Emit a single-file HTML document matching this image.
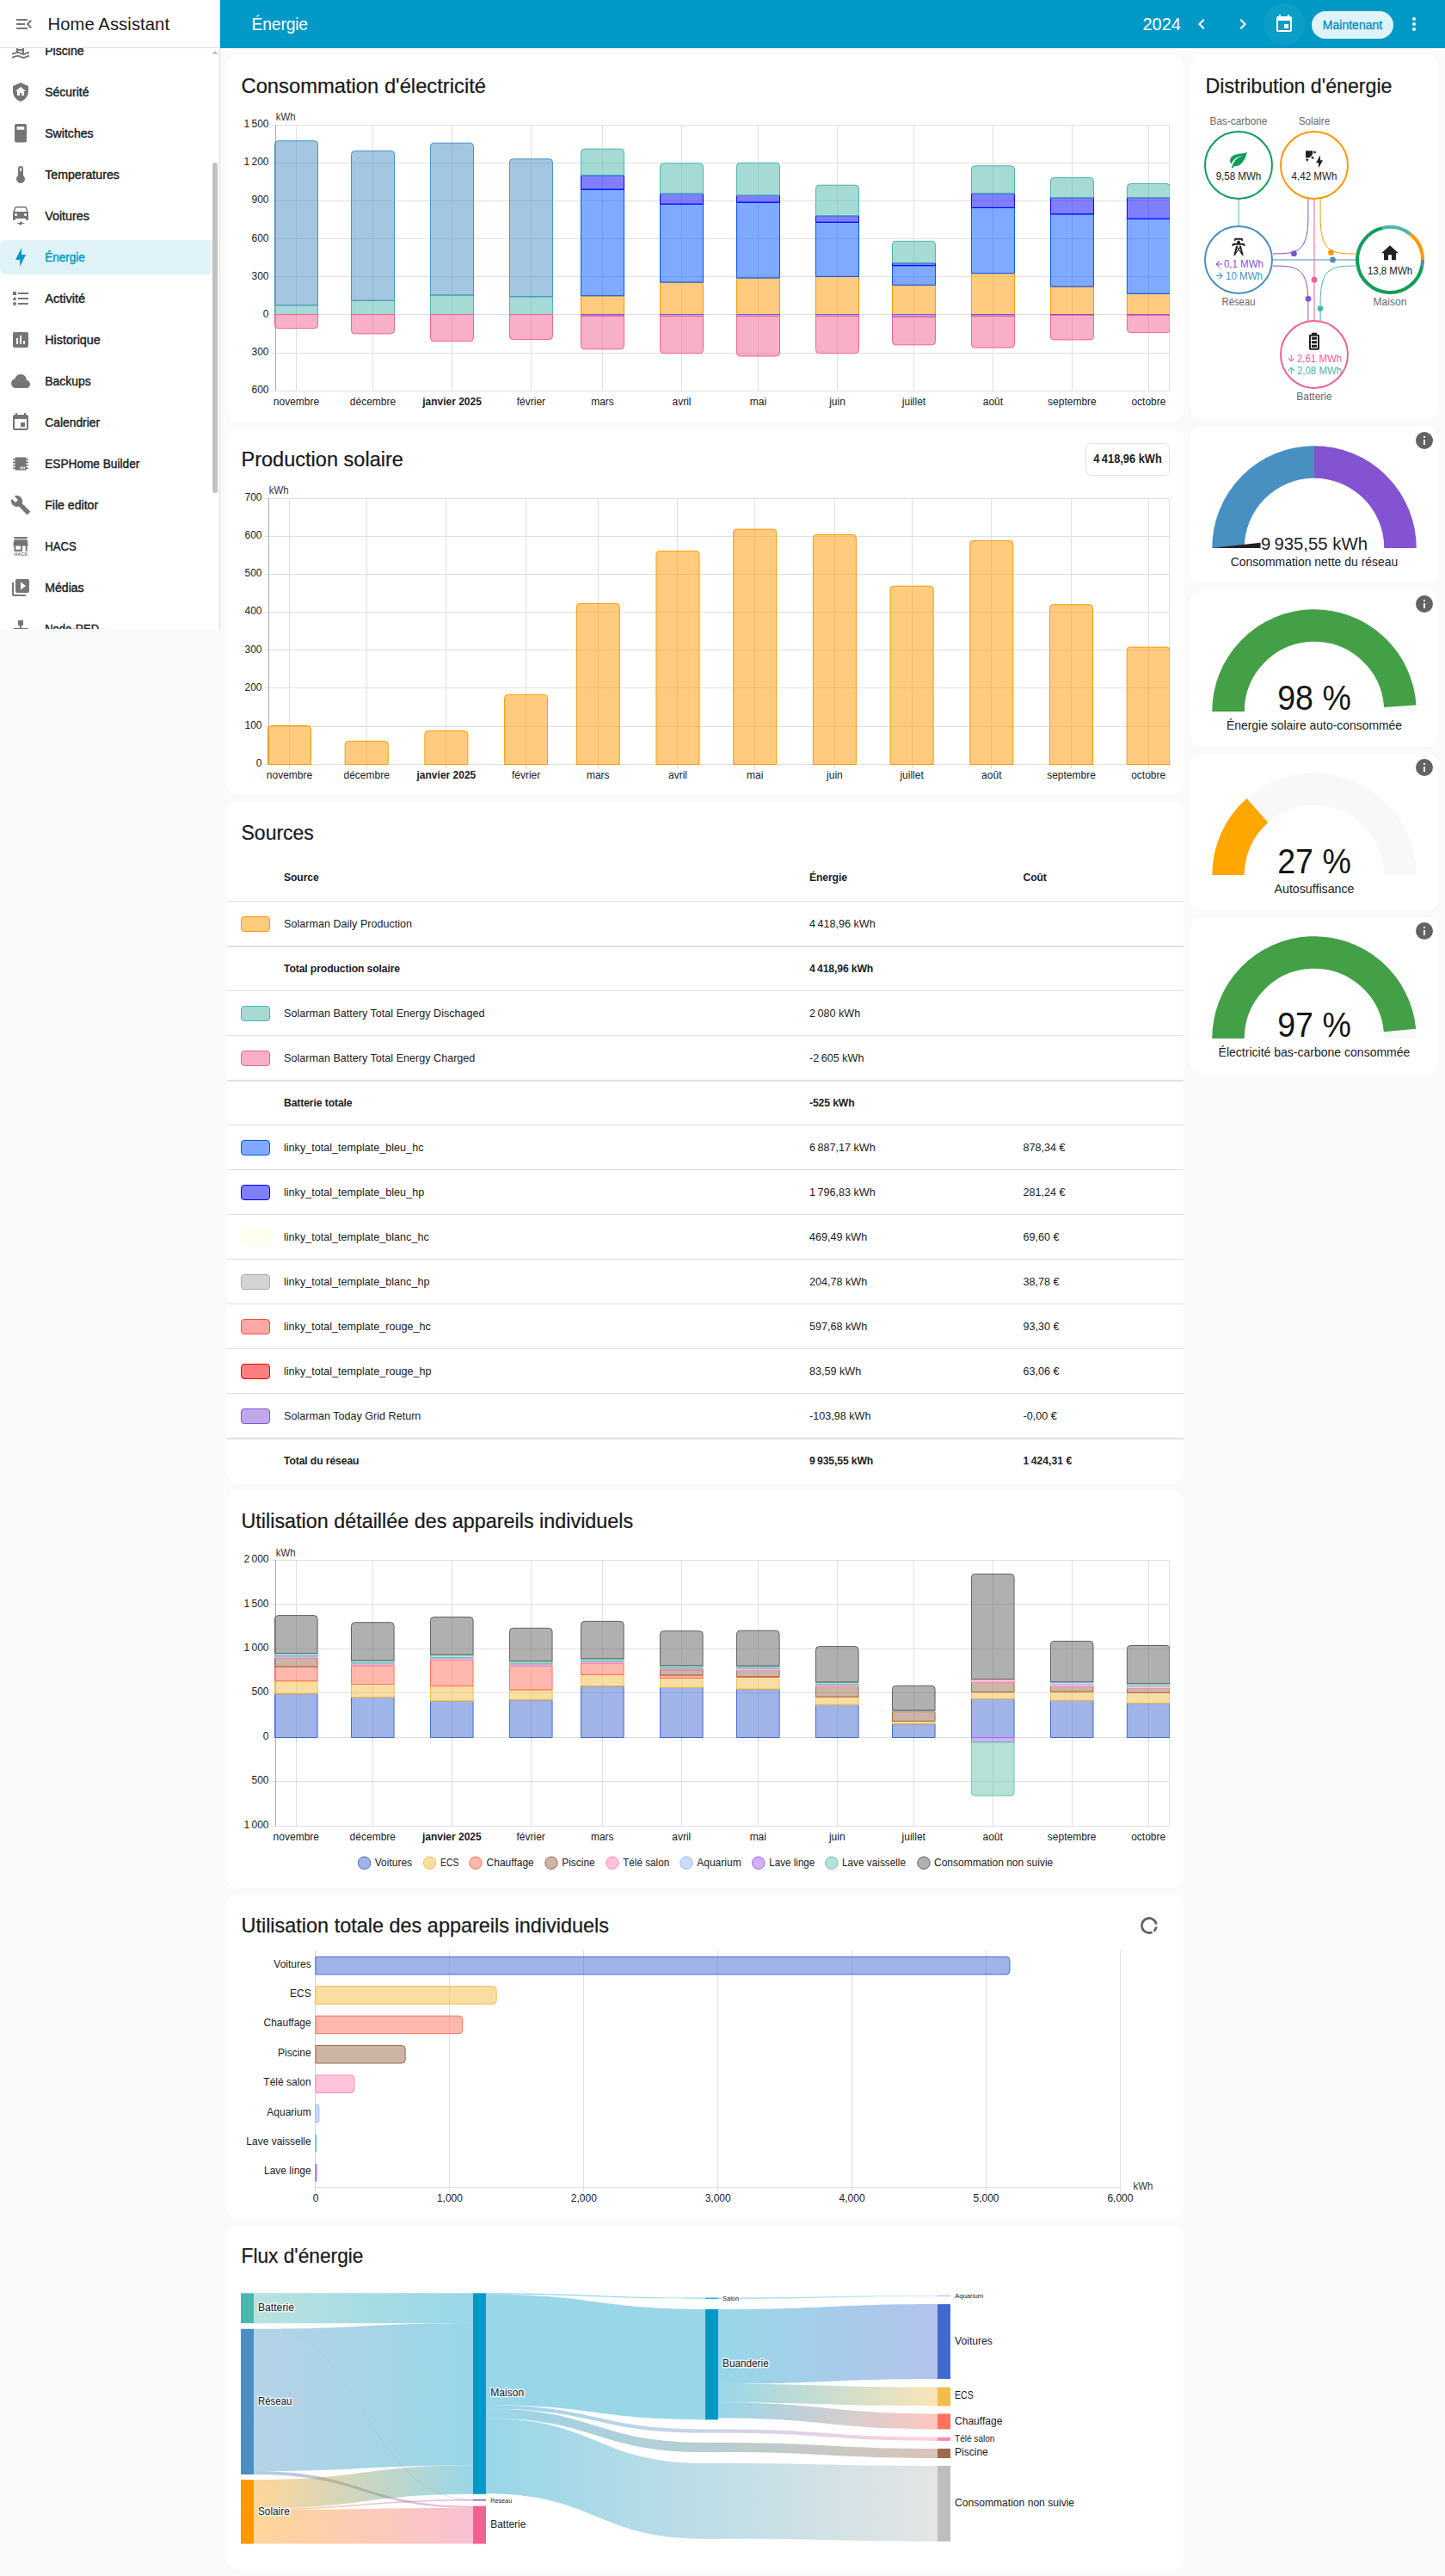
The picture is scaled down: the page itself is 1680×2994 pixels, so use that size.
<!DOCTYPE html>
<html lang="fr"><head><meta charset="utf-8"><title>Énergie – Home Assistant</title>
<style>
html,body{margin:0;padding:0}
body{width:1680px;height:2994px;background:#fafafa;position:relative;overflow:hidden;font-family:"Liberation Sans",sans-serif;color:#212121;-webkit-font-smoothing:antialiased}
.abs{position:absolute}
.card{position:absolute;background:#fff;border-radius:12px}
.title{position:absolute;font-size:23.8px;line-height:32px;white-space:nowrap;color:#212121}
.sb{position:absolute;left:52px;font-size:14px;line-height:20px;white-space:nowrap;color:#212121;-webkit-text-stroke:0.35px #212121}
.row{position:absolute;left:0;width:1112px;height:52px;border-top:1px solid #e0e0e0;box-sizing:border-box;font-size:12.6px;white-space:nowrap}
.row.tot{border-top-width:2px;font-weight:bold;font-size:12.2px;letter-spacing:-0.12px}
.row.tot span{top:0}
.row span{position:absolute;top:1px;line-height:51px}
.row .n{left:66px}.row .e{left:677px}.row .c{left:925.5px}
.row i{position:absolute;left:16px;top:17px;width:32px;height:16px;border:1px solid;border-radius:4px}
.gname{position:absolute;left:0;width:288px;text-align:center;font-size:15px;line-height:20px;white-space:nowrap}
.lbl{position:absolute;font-size:12px;line-height:16px;color:#727272;white-space:nowrap;text-align:center;width:120px}
</style></head><body>

<div class="abs" style="left:0;top:0;width:255px;height:731px;background:#fff;border-right:1px solid #e0e0e0;overflow:hidden">
<div class="abs" style="left:0;top:56px;width:255px;height:675px;overflow:hidden">
<svg class="abs" style="left:12px;top:-9px" width="24" height="24" viewBox="0 0 24 24" ><path fill="#757575" fill-rule="evenodd" d="M2,15C3.67,14.25 5.33,13.5 7,13.17V5A3,3 0 0,1 10,2C11.31,2 12.42,2.83 12.83,4H10A1,1 0 0,0 9,5V6H14V5A3,3 0 0,1 17,2C18.31,2 19.42,2.83 19.83,4H17A1,1 0 0,0 16,5V14.94C18,14.62 20,13 22,13V15C19.78,15 17.56,17 15.33,17C13.11,17 10.89,15 8.67,15C6.44,15 4.22,16 2,17V15M14,8H9V10H14V8M14,12H9V13C10.67,13.16 12.33,14.31 14,14.79V12M2,19C4.22,18 6.44,17 8.67,17C10.89,17 13.11,19 15.33,19C17.56,19 19.78,17 22,17V19C19.78,19 17.56,21 15.33,21C13.11,21 10.89,19 8.67,19C6.44,19 4.22,20 2,21V19Z"/></svg>
<svg class="abs" style="left:48px;top:-9px" width="55.5" height="24" viewBox="48 -9 55.5 24" font-family='"Liberation Sans", sans-serif'><text x="52.2" y="8.0" font-size="14" text-anchor="start" fill="#212121" textLength="45.5" lengthAdjust="spacingAndGlyphs" stroke="#212121" stroke-width="0.4">Piscine</text></svg>
<svg class="abs" style="left:12px;top:39px" width="24" height="24" viewBox="0 0 24 24" ><path fill="#757575" fill-rule="evenodd" d="M11,13H13V16H16V11H18L12,6L6,11H8V16H11V13M12,1L21,5V11C21,16.55 17.16,21.74 12,23C6.84,21.74 3,16.55 3,11V5L12,1Z"/></svg>
<svg class="abs" style="left:48px;top:39px" width="61.3" height="24" viewBox="48 39 61.3 24" font-family='"Liberation Sans", sans-serif'><text x="52.2" y="56.0" font-size="14" text-anchor="start" fill="#212121" textLength="51.3" lengthAdjust="spacingAndGlyphs" stroke="#212121" stroke-width="0.4">Sécurité</text></svg>
<svg class="abs" style="left:12px;top:87px" width="24" height="24" viewBox="0 0 24 24" ><path fill="#757575" fill-rule="evenodd" d="M7,1H17A2,2 0 0,1 19,3V20.5A2,2 0 0,1 17,22.5H7A2,2 0 0,1 5,20.5V3A2,2 0 0,1 7,1M7.6,4.2V7.8H16.2V4.2Z"/></svg>
<svg class="abs" style="left:48px;top:87px" width="66.5" height="24" viewBox="48 87 66.5 24" font-family='"Liberation Sans", sans-serif'><text x="52.2" y="104.0" font-size="14" text-anchor="start" fill="#212121" textLength="56.5" lengthAdjust="spacingAndGlyphs" stroke="#212121" stroke-width="0.4">Switches</text></svg>
<svg class="abs" style="left:12px;top:135px" width="24" height="24" viewBox="0 0 24 24" ><path fill="#757575" fill-rule="evenodd" d="M15,13V5A3,3 0 0,0 9,5V13A5,5 0 1,0 15,13M12,4A1,1 0 0,1 13,5V8H11V5A1,1 0 0,1 12,4Z"/></svg>
<svg class="abs" style="left:48px;top:135px" width="96.7" height="24" viewBox="48 135 96.7 24" font-family='"Liberation Sans", sans-serif'><text x="52.2" y="152.0" font-size="14" text-anchor="start" fill="#212121" textLength="86.7" lengthAdjust="spacingAndGlyphs" stroke="#212121" stroke-width="0.4">Temperatures</text></svg>
<svg class="abs" style="left:12px;top:183px" width="24" height="24" viewBox="0 0 24 24" ><path fill="#757575" fill-rule="evenodd" d="M18.92,2C18.72,1.42 18.16,1 17.5,1H6.5C5.84,1 5.29,1.42 5.08,2L3,8V16A1,1 0 0,0 4,17H5A1,1 0 0,0 6,16V15H18V16A1,1 0 0,0 19,17H20A1,1 0 0,0 21,16V8L18.92,2M6.5,12A1.5,1.5 0 0,1 5,10.5A1.5,1.5 0 0,1 6.5,9A1.5,1.5 0 0,1 8,10.5A1.5,1.5 0 0,1 6.5,12M17.5,12A1.5,1.5 0 0,1 16,10.5A1.5,1.5 0 0,1 17.5,9A1.5,1.5 0 0,1 19,10.5A1.5,1.5 0 0,1 17.5,12M5,7L6.5,2.5H17.5L19,7H5M7,20H11V18L17,21H13V23L7,20Z"/></svg>
<svg class="abs" style="left:48px;top:183px" width="61.8" height="24" viewBox="48 183 61.8 24" font-family='"Liberation Sans", sans-serif'><text x="52.2" y="200.0" font-size="14" text-anchor="start" fill="#212121" textLength="51.8" lengthAdjust="spacingAndGlyphs" stroke="#212121" stroke-width="0.4">Voitures</text></svg>
<div class="abs" style="left:0;top:223px;width:245px;height:40px;background:#e0f3f9;border-radius:6px 0 0 6px"></div>
<svg class="abs" style="left:12px;top:231px" width="24" height="24" viewBox="0 0 24 24" ><path fill="#0099c6" fill-rule="evenodd" d="M11,15H6L13,1V9H18L11,23V15Z"/></svg>
<svg class="abs" style="left:48px;top:231px" width="56.6" height="24" viewBox="48 231 56.6 24" font-family='"Liberation Sans", sans-serif'><text x="52.2" y="248.0" font-size="14" text-anchor="start" fill="#0099c6" textLength="46.6" lengthAdjust="spacingAndGlyphs" stroke="#0099c6" stroke-width="0.4">Énergie</text></svg>
<svg class="abs" style="left:12px;top:279px" width="24" height="24" viewBox="0 0 24 24" ><path fill="#757575" fill-rule="evenodd" d="M5,9.5L7.5,14H2.5L5,9.5M3,4H7V8H3V4M5,20A2,2 0 0,0 7,18A2,2 0 0,0 5,16A2,2 0 0,0 3,18A2,2 0 0,0 5,20M9,5V7H21V5H9M9,19H21V17H9V19M9,13H21V11H9V13Z"/></svg>
<svg class="abs" style="left:48px;top:279px" width="57" height="24" viewBox="48 279 57 24" font-family='"Liberation Sans", sans-serif'><text x="52.2" y="296.0" font-size="14" text-anchor="start" fill="#212121" textLength="47" lengthAdjust="spacingAndGlyphs" stroke="#212121" stroke-width="0.4">Activité</text></svg>
<svg class="abs" style="left:12px;top:327px" width="24" height="24" viewBox="0 0 24 24" ><path fill="#757575" fill-rule="evenodd" d="M19,3H5C3.9,3 3,3.9 3,5V19C3,20.1 3.9,21 5,21H19C20.1,21 21,20.1 21,19V5C21,3.9 20.1,3 19,3M9,17H7V10H9V17M13,17H11V7H13V17M17,17H15V13H17V17Z"/></svg>
<svg class="abs" style="left:48px;top:327px" width="74.6" height="24" viewBox="48 327 74.6 24" font-family='"Liberation Sans", sans-serif'><text x="52.2" y="344.0" font-size="14" text-anchor="start" fill="#212121" textLength="64.6" lengthAdjust="spacingAndGlyphs" stroke="#212121" stroke-width="0.4">Historique</text></svg>
<svg class="abs" style="left:12px;top:375px" width="24" height="24" viewBox="0 0 24 24" ><path fill="#757575" fill-rule="evenodd" d="M6.5,20Q4.22,20 2.61,18.43Q1,16.85 1,14.58Q1,12.63 2.17,11.1Q3.35,9.57 5.25,9.15Q5.88,6.85 7.75,5.43Q9.63,4 12,4Q14.93,4 16.96,6.04Q19,8.07 19,11Q20.73,11.2 21.86,12.5Q23,13.78 23,15.5Q23,17.38 21.69,18.69Q20.38,20 18.5,20Z"/></svg>
<svg class="abs" style="left:48px;top:375px" width="63.6" height="24" viewBox="48 375 63.6 24" font-family='"Liberation Sans", sans-serif'><text x="52.2" y="392.0" font-size="14" text-anchor="start" fill="#212121" textLength="53.6" lengthAdjust="spacingAndGlyphs" stroke="#212121" stroke-width="0.4">Backups</text></svg>
<svg class="abs" style="left:12px;top:423px" width="24" height="24" viewBox="0 0 24 24" ><path fill="#757575" fill-rule="evenodd" d="M19,19H5V8H19M16,1V3H8V1H6V3H5C3.89,3 3,3.89 3,5V19A2,2 0 0,0 5,21H19A2,2 0 0,0 21,19V5C21,3.89 20.1,3 19,3H18V1M17,12H12V17H17V12Z"/></svg>
<svg class="abs" style="left:48px;top:423px" width="73.9" height="24" viewBox="48 423 73.9 24" font-family='"Liberation Sans", sans-serif'><text x="52.2" y="440.0" font-size="14" text-anchor="start" fill="#212121" textLength="63.9" lengthAdjust="spacingAndGlyphs" stroke="#212121" stroke-width="0.4">Calendrier</text></svg>
<svg class="abs" style="left:12px;top:471px" width="24" height="24" viewBox="0 0 24 24"><path fill="#757575" fill-rule="evenodd" d="M5.5,4.5H18.5V19.5H5.5ZM3,6.2H5.5V7.8H3ZM3,9.6H5.5V11.2H3ZM3,13H5.5V14.6H3ZM3,16.4H5.5V18H3ZM18.5,6.2H21V7.8H18.5ZM18.5,9.6H21V11.2H18.5ZM18.5,13H21V14.6H18.5ZM18.5,16.4H21V18H18.5ZM11.6,15.3H12.7V18.3H11.6ZM13.6,15.3H14.7V18.3H13.6ZM15.6,15.3H16.7V18.3H15.6Z"/></svg>
<svg class="abs" style="left:48px;top:471px" width="120.1" height="24" viewBox="48 471 120.1 24" font-family='"Liberation Sans", sans-serif'><text x="52.2" y="488.0" font-size="14" text-anchor="start" fill="#212121" textLength="110.1" lengthAdjust="spacingAndGlyphs" stroke="#212121" stroke-width="0.4">ESPHome Builder</text></svg>
<svg class="abs" style="left:12px;top:519px" width="24" height="24" viewBox="0 0 24 24" ><path fill="#757575" fill-rule="evenodd" d="M22.7,19L13.6,9.9C14.5,7.6 14,4.9 12.1,3C10.1,1 7.1,0.6 4.7,1.7L9,6L6,9L1.6,4.7C0.4,7.1 0.9,10.1 2.9,12.1C4.8,14 7.5,14.5 9.8,13.6L18.9,22.7C19.3,23.1 19.9,23.1 20.3,22.7L22.6,20.4C23.1,20 23.1,19.3 22.7,19Z"/></svg>
<svg class="abs" style="left:48px;top:519px" width="71.9" height="24" viewBox="48 519 71.9 24" font-family='"Liberation Sans", sans-serif'><text x="52.2" y="536.0" font-size="14" text-anchor="start" fill="#212121" textLength="61.9" lengthAdjust="spacingAndGlyphs" stroke="#212121" stroke-width="0.4">File editor</text></svg>
<svg class="abs" style="left:12px;top:567px" width="24" height="24" viewBox="0 0 24 24"><path fill="#757575" transform="translate(0.6,-3.1) scale(0.95,1.05)" d="M12,18H6V14H12M21,14V12L20,7H4L3,12V14H4V20H14V14H18V20H20V14M20,4H4V6H20V4Z"/><text x="12.1" y="23" font-size="5.4" font-weight="bold" text-anchor="middle" fill="#757575" font-family='"Liberation Sans", sans-serif' textLength="15.5" lengthAdjust="spacingAndGlyphs">HACS</text></svg>
<svg class="abs" style="left:48px;top:567px" width="46.5" height="24" viewBox="48 567 46.5 24" font-family='"Liberation Sans", sans-serif'><text x="52.2" y="584.0" font-size="14" text-anchor="start" fill="#212121" textLength="36.5" lengthAdjust="spacingAndGlyphs" stroke="#212121" stroke-width="0.4">HACS</text></svg>
<svg class="abs" style="left:12px;top:615px" width="24" height="24" viewBox="0 0 24 24" ><path fill="#757575" fill-rule="evenodd" d="M4,6H2V20A2,2 0 0,0 4,22H18V20H4V6M20,2H8A2,2 0 0,0 6,4V16A2,2 0 0,0 8,18H20A2,2 0 0,0 22,16V4A2,2 0 0,0 20,2M12,14.5V5.5L18,10L12,14.5Z"/></svg>
<svg class="abs" style="left:48px;top:615px" width="55.5" height="24" viewBox="48 615 55.5 24" font-family='"Liberation Sans", sans-serif'><text x="52.2" y="632.0" font-size="14" text-anchor="start" fill="#212121" textLength="45.5" lengthAdjust="spacingAndGlyphs" stroke="#212121" stroke-width="0.4">Médias</text></svg>
<svg class="abs" style="left:12px;top:663px" width="24" height="24" viewBox="0 0 24 24" ><path fill="#757575" fill-rule="evenodd" d="M9,2V8H11V11H5C3.89,11 3,11.89 3,13V16H1V22H7V16H5V13H11V16H9V22H15V16H13V13H19V16H17V22H23V16H21V13C21,11.89 20.11,11 19,11H13V8H15V2H9Z"/></svg>
<svg class="abs" style="left:48px;top:663px" width="73" height="24" viewBox="48 663 73 24" font-family='"Liberation Sans", sans-serif'><text x="52.2" y="680.0" font-size="14" text-anchor="start" fill="#212121" textLength="63" lengthAdjust="spacingAndGlyphs" stroke="#212121" stroke-width="0.4">Node-RED</text></svg>
<div class="abs" style="left:247px;top:133px;width:6px;height:384px;border-radius:3px;background:#c1c1c1"></div>
<svg class="abs" style="left:246px;top:2px" width="8" height="6" viewBox="0 0 8 6"><path d="M0.7,5L4,1L7.3,5Z" fill="#bdbdbd"/></svg>
</div>
<div class="abs" style="left:0;top:0;width:255px;height:55px;border-bottom:1px solid #e0e0e0;background:#fff"></div>
<svg class="abs" style="left:16px;top:16px" width="24" height="24" viewBox="0 0 24 24" ><path fill="#757575" fill-rule="evenodd" d="M21,15.61L19.59,17L14.58,12L19.59,7L21,8.39L17.44,12L21,15.61M3,6H16V8H3V6M3,13V11H13V13H3M3,18V16H16V18H3Z"/></svg>
<div class="abs" style="left:55.5px;top:14px;font-size:20.2px;letter-spacing:0.1px;line-height:28px;white-space:nowrap;color:#1a1a1a">Home Assistant</div>
</div>
<div class="abs" style="left:256px;top:0;width:1424px;height:56px;background:#0099c6"></div>
<div class="abs" style="left:292.5px;top:14px;font-size:19.4px;letter-spacing:-0.2px;line-height:28px;color:#fff;white-space:nowrap">Énergie</div>
<div class="abs" style="left:1328.5px;top:14px;font-size:20px;line-height:28px;color:#fff;white-space:nowrap">2024</div>
<svg class="abs" style="left:1385px;top:16px" width="24" height="24" viewBox="0 0 24 24" ><path fill="#fff" fill-rule="evenodd" d="M15.41,16.58L10.83,12L15.41,7.41L14,6L8,12L14,18L15.41,16.58Z"/></svg>
<svg class="abs" style="left:1433px;top:16px" width="24" height="24" viewBox="0 0 24 24" ><path fill="#fff" fill-rule="evenodd" d="M8.59,16.58L13.17,12L8.59,7.41L10,6L16,12L10,18L8.59,16.58Z"/></svg>
<div class="abs" style="left:1469px;top:4px;width:48px;height:48px;border-radius:24px;background:rgba(255,255,255,0.05)"></div>
<svg class="abs" style="left:1481.3px;top:16px" width="24" height="24" viewBox="0 0 24 24" ><path fill="#fff" fill-rule="evenodd" d="M19,19H5V8H19M16,1V3H8V1H6V3H5C3.89,3 3,3.89 3,5V19A2,2 0 0,0 5,21H19A2,2 0 0,0 21,19V5C21,3.89 20.1,3 19,3H18V1M17,12H12V17H17V12Z"/></svg>
<div class="abs" style="left:1525px;top:12.5px;width:95px;height:32px;border-radius:16px;background:#dff3fb;color:#0a8fbc;font-size:14px;line-height:32px;text-align:center;-webkit-text-stroke:0.35px #0a8fbc">Maintenant</div>
<svg class="abs" style="left:1632px;top:16px" width="24" height="24" viewBox="0 0 24 24" ><path fill="#fff" fill-rule="evenodd" d="M12,16A2,2 0 0,1 14,18A2,2 0 0,1 12,20A2,2 0 0,1 10,18A2,2 0 0,1 12,16M12,10A2,2 0 0,1 14,12A2,2 0 0,1 12,14A2,2 0 0,1 10,12A2,2 0 0,1 12,10M12,4A2,2 0 0,1 14,6A2,2 0 0,1 12,8A2,2 0 0,1 10,6A2,2 0 0,1 12,4Z"/></svg>
<div class="card" style="left:264px;top:64px;width:1112px;height:426px"></div>
<div class="card" style="left:264px;top:498px;width:1112px;height:426px"></div>
<div class="card" style="left:264px;top:932px;width:1112px;height:792px"></div>
<div class="card" style="left:264px;top:1732px;width:1112px;height:462px"></div>
<div class="card" style="left:264px;top:2202px;width:1112px;height:376px"></div>
<div class="card" style="left:264px;top:2586px;width:1112px;height:400px"></div>
<div class="card" style="left:1384px;top:64px;width:288px;height:424px"></div>
<div class="card" style="left:1384px;top:496px;width:288px;height:182px"></div>
<div class="card" style="left:1384px;top:686px;width:288px;height:182px"></div>
<div class="card" style="left:1384px;top:876px;width:288px;height:182px"></div>
<div class="card" style="left:1384px;top:1066px;width:288px;height:182px"></div>
<svg class="abs" style="left:276px;top:76px" width="296.5" height="48" viewBox="276 76 296.5 48" font-family='"Liberation Sans", sans-serif'><text x="280.5" y="107.8" font-size="24" text-anchor="start" fill="#1a1a1a" textLength="284.5" lengthAdjust="spacingAndGlyphs" stroke="#1a1a1a" stroke-width="0.25">Consommation d'électricité</text></svg>
<svg class="abs" style="left:276px;top:510px" width="200.4" height="48" viewBox="276 510 200.4 48" font-family='"Liberation Sans", sans-serif'><text x="280.5" y="541.8" font-size="24" text-anchor="start" fill="#1a1a1a" textLength="188.4" lengthAdjust="spacingAndGlyphs" stroke="#1a1a1a" stroke-width="0.25">Production solaire</text></svg>
<svg class="abs" style="left:276px;top:944px" width="96.4" height="48" viewBox="276 944 96.4 48" font-family='"Liberation Sans", sans-serif'><text x="280.5" y="975.8" font-size="24" text-anchor="start" fill="#1a1a1a" textLength="84.4" lengthAdjust="spacingAndGlyphs" stroke="#1a1a1a" stroke-width="0.25">Sources</text></svg>
<svg class="abs" style="left:276px;top:1744px" width="467.7" height="48" viewBox="276 1744 467.7 48" font-family='"Liberation Sans", sans-serif'><text x="280.5" y="1775.8" font-size="24" text-anchor="start" fill="#1a1a1a" textLength="455.7" lengthAdjust="spacingAndGlyphs" stroke="#1a1a1a" stroke-width="0.25">Utilisation détaillée des appareils individuels</text></svg>
<svg class="abs" style="left:276px;top:2214px" width="439.5" height="48" viewBox="276 2214 439.5 48" font-family='"Liberation Sans", sans-serif'><text x="280.5" y="2245.8" font-size="24" text-anchor="start" fill="#1a1a1a" textLength="427.5" lengthAdjust="spacingAndGlyphs" stroke="#1a1a1a" stroke-width="0.25">Utilisation totale des appareils individuels</text></svg>
<svg class="abs" style="left:276px;top:2598px" width="154" height="48" viewBox="276 2598 154 48" font-family='"Liberation Sans", sans-serif'><text x="280.5" y="2629.8" font-size="24" text-anchor="start" fill="#1a1a1a" textLength="142" lengthAdjust="spacingAndGlyphs" stroke="#1a1a1a" stroke-width="0.25">Flux d'énergie</text></svg>
<svg class="abs" style="left:1396.5px;top:76px" width="229" height="48" viewBox="1396.5 76 229 48" font-family='"Liberation Sans", sans-serif'><text x="1401.0" y="107.8" font-size="24" text-anchor="start" fill="#1a1a1a" textLength="217" lengthAdjust="spacingAndGlyphs" stroke="#1a1a1a" stroke-width="0.25">Distribution d'énergie</text></svg>
<svg class="abs" style="left:264px;top:64px" width="1112" height="426" viewBox="264 64 1112 426" font-family='"Liberation Sans", sans-serif' >
<path d="M315.5,145.5H1360" stroke="#e0e0e0"/><path d="M315.5,189.5H1360" stroke="#e0e0e0"/><path d="M315.5,233.5H1360" stroke="#e0e0e0"/><path d="M315.5,277.5H1360" stroke="#e0e0e0"/><path d="M315.5,321.5H1360" stroke="#e0e0e0"/><path d="M315.5,365.5H1360" stroke="#e0e0e0"/><path d="M315.5,410.5H1360" stroke="#e0e0e0"/><path d="M315.5,454.5H1360" stroke="#e0e0e0"/><path d="M344.5,145V454.5" stroke="#e0e0e0"/><path d="M433.5,145V454.5" stroke="#e0e0e0"/><path d="M525.5,145V454.5" stroke="#e0e0e0"/><path d="M617.5,145V454.5" stroke="#e0e0e0"/><path d="M700.5,145V454.5" stroke="#e0e0e0"/><path d="M792.5,145V454.5" stroke="#e0e0e0"/><path d="M881.5,145V454.5" stroke="#e0e0e0"/><path d="M973.5,145V454.5" stroke="#e0e0e0"/><path d="M1062.5,145V454.5" stroke="#e0e0e0"/><path d="M1154.5,145V454.5" stroke="#e0e0e0"/><path d="M1246.5,145V454.5" stroke="#e0e0e0"/><path d="M1335.5,145V454.5" stroke="#e0e0e0"/><path d="M1359.5,145V454.5" stroke="#e0e0e0"/><path d="M320.5,145V454.5" stroke="#adadad"/><text x="312.5" y="148.2" font-size="12" text-anchor="end" fill="#212121" >1 500</text><text x="312.5" y="192.3" font-size="12" text-anchor="end" fill="#212121" >1 200</text><text x="312.5" y="236.4" font-size="12" text-anchor="end" fill="#212121" >900</text><text x="312.5" y="280.5" font-size="12" text-anchor="end" fill="#212121" >600</text><text x="312.5" y="324.6" font-size="12" text-anchor="end" fill="#212121" >300</text><text x="312.5" y="368.7" font-size="12" text-anchor="end" fill="#212121" >0</text><text x="312.5" y="412.8" font-size="12" text-anchor="end" fill="#212121" >300</text><text x="312.5" y="456.9" font-size="12" text-anchor="end" fill="#212121" >600</text><text x="344.5" y="471.3" font-size="12" text-anchor="middle" fill="#212121" >novembre</text><text x="433.5" y="471.3" font-size="12" text-anchor="middle" fill="#212121" >décembre</text><text x="525.5" y="471.3" font-size="12" text-anchor="middle" fill="#212121" font-weight="700" >janvier 2025</text><text x="617.4" y="471.3" font-size="12" text-anchor="middle" fill="#212121" >février</text><text x="700.5" y="471.3" font-size="12" text-anchor="middle" fill="#212121" >mars</text><text x="792.5" y="471.3" font-size="12" text-anchor="middle" fill="#212121" >avril</text><text x="881.5" y="471.3" font-size="12" text-anchor="middle" fill="#212121" >mai</text><text x="973.5" y="471.3" font-size="12" text-anchor="middle" fill="#212121" >juin</text><text x="1062.5" y="471.3" font-size="12" text-anchor="middle" fill="#212121" >juillet</text><text x="1154.4" y="471.3" font-size="12" text-anchor="middle" fill="#212121" >août</text><text x="1246.4" y="471.3" font-size="12" text-anchor="middle" fill="#212121" >septembre</text><text x="1335.4" y="471.3" font-size="12" text-anchor="middle" fill="#212121" >octobre</text><text x="320.8" y="140.0" font-size="12" text-anchor="start" fill="#333" textLength="22.8" lengthAdjust="spacingAndGlyphs" >kWh</text>
<clipPath id="c1"><rect x="317.5" y="140" width="1042.5" height="320"/></clipPath><g clip-path="url(#c1)">
<path d="M319.50,354.70L369.50,354.70L369.50,365.50L319.50,365.50Z" fill="#4db6ac" fill-opacity="0.5" stroke="#4db6ac" stroke-width="1"/>
<path d="M319.50,167.70Q319.50,163.70 323.50,163.70L365.50,163.70Q369.50,163.70 369.50,167.70L369.50,354.70L319.50,354.70Z" fill="#488fc2" fill-opacity="0.5" stroke="#488fc2" stroke-width="1"/>
<path d="M319.50,365.50L369.50,365.50L369.50,377.70Q369.50,381.70 365.50,381.70L323.50,381.70Q319.50,381.70 319.50,377.70Z" fill="#f06292" fill-opacity="0.5" stroke="#f06292" stroke-width="1"/>
<path d="M408.50,349.30L458.50,349.30L458.50,365.50L408.50,365.50Z" fill="#4db6ac" fill-opacity="0.5" stroke="#4db6ac" stroke-width="1"/>
<path d="M408.50,179.40Q408.50,175.40 412.50,175.40L454.50,175.40Q458.50,175.40 458.50,179.40L458.50,349.30L408.50,349.30Z" fill="#488fc2" fill-opacity="0.5" stroke="#488fc2" stroke-width="1"/>
<path d="M408.50,365.50L458.50,365.50L458.50,383.90Q458.50,387.90 454.50,387.90L412.50,387.90Q408.50,387.90 408.50,383.90Z" fill="#f06292" fill-opacity="0.5" stroke="#f06292" stroke-width="1"/>
<path d="M500.47,343.00L550.47,343.00L550.47,365.50L500.47,365.50Z" fill="#4db6ac" fill-opacity="0.5" stroke="#4db6ac" stroke-width="1"/>
<path d="M500.47,170.20Q500.47,166.20 504.47,166.20L546.47,166.20Q550.47,166.20 550.47,170.20L550.47,343.00L500.47,343.00Z" fill="#488fc2" fill-opacity="0.5" stroke="#488fc2" stroke-width="1"/>
<path d="M500.47,365.50L550.47,365.50L550.47,392.60Q550.47,396.60 546.47,396.60L504.47,396.60Q500.47,396.60 500.47,392.60Z" fill="#f06292" fill-opacity="0.5" stroke="#f06292" stroke-width="1"/>
<path d="M592.45,344.80L642.45,344.80L642.45,365.50L592.45,365.50Z" fill="#4db6ac" fill-opacity="0.5" stroke="#4db6ac" stroke-width="1"/>
<path d="M592.45,188.80Q592.45,184.80 596.45,184.80L638.45,184.80Q642.45,184.80 642.45,188.80L642.45,344.80L592.45,344.80Z" fill="#488fc2" fill-opacity="0.5" stroke="#488fc2" stroke-width="1"/>
<path d="M592.45,365.50L642.45,365.50L642.45,390.60Q642.45,394.60 638.45,394.60L596.45,394.60Q592.45,394.60 592.45,390.60Z" fill="#f06292" fill-opacity="0.5" stroke="#f06292" stroke-width="1"/>
<path d="M675.52,343.80L725.52,343.80L725.52,365.50L675.52,365.50Z" fill="#ff9800" fill-opacity="0.5" stroke="#ff9800" stroke-width="1"/>
<path d="M675.52,220.20L725.52,220.20L725.52,343.80L675.52,343.80Z" fill="#0055ff" fill-opacity="0.5" stroke="#0055ff" stroke-width="1"/>
<path d="M675.52,204.00L725.52,204.00L725.52,220.20L675.52,220.20Z" fill="#0000ff" fill-opacity="0.5" stroke="#0000ff" stroke-width="1"/>
<path d="M675.52,177.10Q675.52,173.10 679.52,173.10L721.52,173.10Q725.52,173.10 725.52,177.10L725.52,204.00L675.52,204.00Z" fill="#4db6ac" fill-opacity="0.5" stroke="#4db6ac" stroke-width="1"/>
<path d="M675.52,365.50L725.52,365.50L725.52,367.20L675.52,367.20Z" fill="#8353d1" fill-opacity="0.5" stroke="#8353d1" stroke-width="1"/>
<path d="M675.52,367.20L725.52,367.20L725.52,401.80Q725.52,405.80 721.52,405.80L679.52,405.80Q675.52,405.80 675.52,401.80Z" fill="#f06292" fill-opacity="0.5" stroke="#f06292" stroke-width="1"/>
<path d="M767.49,328.10L817.49,328.10L817.49,365.50L767.49,365.50Z" fill="#ff9800" fill-opacity="0.5" stroke="#ff9800" stroke-width="1"/>
<path d="M767.49,237.20L817.49,237.20L817.49,328.10L767.49,328.10Z" fill="#0055ff" fill-opacity="0.5" stroke="#0055ff" stroke-width="1"/>
<path d="M767.49,225.20L817.49,225.20L817.49,237.20L767.49,237.20Z" fill="#0000ff" fill-opacity="0.5" stroke="#0000ff" stroke-width="1"/>
<path d="M767.49,193.80Q767.49,189.80 771.49,189.80L813.49,189.80Q817.49,189.80 817.49,193.80L817.49,225.20L767.49,225.20Z" fill="#4db6ac" fill-opacity="0.5" stroke="#4db6ac" stroke-width="1"/>
<path d="M767.49,365.50L817.49,365.50L817.49,367.50L767.49,367.50Z" fill="#8353d1" fill-opacity="0.5" stroke="#8353d1" stroke-width="1"/>
<path d="M767.49,367.50L817.49,367.50L817.49,406.60Q817.49,410.60 813.49,410.60L771.49,410.60Q767.49,410.60 767.49,406.60Z" fill="#f06292" fill-opacity="0.5" stroke="#f06292" stroke-width="1"/>
<path d="M856.49,323.10L906.49,323.10L906.49,365.50L856.49,365.50Z" fill="#ff9800" fill-opacity="0.5" stroke="#ff9800" stroke-width="1"/>
<path d="M856.49,235.20L906.49,235.20L906.49,323.10L856.49,323.10Z" fill="#0055ff" fill-opacity="0.5" stroke="#0055ff" stroke-width="1"/>
<path d="M856.49,227.20L906.49,227.20L906.49,235.20L856.49,235.20Z" fill="#0000ff" fill-opacity="0.5" stroke="#0000ff" stroke-width="1"/>
<path d="M856.49,193.30Q856.49,189.30 860.49,189.30L902.49,189.30Q906.49,189.30 906.49,193.30L906.49,227.20L856.49,227.20Z" fill="#4db6ac" fill-opacity="0.5" stroke="#4db6ac" stroke-width="1"/>
<path d="M856.49,365.50L906.49,365.50L906.49,367.50L856.49,367.50Z" fill="#8353d1" fill-opacity="0.5" stroke="#8353d1" stroke-width="1"/>
<path d="M856.49,367.50L906.49,367.50L906.49,410.00Q906.49,414.00 902.49,414.00L860.49,414.00Q856.49,414.00 856.49,410.00Z" fill="#f06292" fill-opacity="0.5" stroke="#f06292" stroke-width="1"/>
<path d="M948.46,321.40L998.46,321.40L998.46,365.50L948.46,365.50Z" fill="#ff9800" fill-opacity="0.5" stroke="#ff9800" stroke-width="1"/>
<path d="M948.46,258.30L998.46,258.30L998.46,321.40L948.46,321.40Z" fill="#0055ff" fill-opacity="0.5" stroke="#0055ff" stroke-width="1"/>
<path d="M948.46,250.90L998.46,250.90L998.46,258.30L948.46,258.30Z" fill="#0000ff" fill-opacity="0.5" stroke="#0000ff" stroke-width="1"/>
<path d="M948.46,219.20Q948.46,215.20 952.46,215.20L994.46,215.20Q998.46,215.20 998.46,219.20L998.46,250.90L948.46,250.90Z" fill="#4db6ac" fill-opacity="0.5" stroke="#4db6ac" stroke-width="1"/>
<path d="M948.46,365.50L998.46,365.50L998.46,367.50L948.46,367.50Z" fill="#8353d1" fill-opacity="0.5" stroke="#8353d1" stroke-width="1"/>
<path d="M948.46,367.50L998.46,367.50L998.46,406.60Q998.46,410.60 994.46,410.60L952.46,410.60Q948.46,410.60 948.46,406.60Z" fill="#f06292" fill-opacity="0.5" stroke="#f06292" stroke-width="1"/>
<path d="M1037.47,331.30L1087.47,331.30L1087.47,365.50L1037.47,365.50Z" fill="#ff9800" fill-opacity="0.5" stroke="#ff9800" stroke-width="1"/>
<path d="M1037.47,308.70L1087.47,308.70L1087.47,331.30L1037.47,331.30Z" fill="#0055ff" fill-opacity="0.5" stroke="#0055ff" stroke-width="1"/>
<path d="M1037.47,305.70L1087.47,305.70L1087.47,308.70L1037.47,308.70Z" fill="#0000ff" fill-opacity="0.5" stroke="#0000ff" stroke-width="1"/>
<path d="M1037.47,284.30Q1037.47,280.30 1041.47,280.30L1083.47,280.30Q1087.47,280.30 1087.47,284.30L1087.47,305.70L1037.47,305.70Z" fill="#4db6ac" fill-opacity="0.5" stroke="#4db6ac" stroke-width="1"/>
<path d="M1037.47,365.50L1087.47,365.50L1087.47,368.20L1037.47,368.20Z" fill="#8353d1" fill-opacity="0.5" stroke="#8353d1" stroke-width="1"/>
<path d="M1037.47,368.20L1087.47,368.20L1087.47,396.80Q1087.47,400.80 1083.47,400.80L1041.47,400.80Q1037.47,400.80 1037.47,396.80Z" fill="#f06292" fill-opacity="0.5" stroke="#f06292" stroke-width="1"/>
<path d="M1129.44,317.60L1179.44,317.60L1179.44,365.50L1129.44,365.50Z" fill="#ff9800" fill-opacity="0.5" stroke="#ff9800" stroke-width="1"/>
<path d="M1129.44,241.40L1179.44,241.40L1179.44,317.60L1129.44,317.60Z" fill="#0055ff" fill-opacity="0.5" stroke="#0055ff" stroke-width="1"/>
<path d="M1129.44,225.00L1179.44,225.00L1179.44,241.40L1129.44,241.40Z" fill="#0000ff" fill-opacity="0.5" stroke="#0000ff" stroke-width="1"/>
<path d="M1129.44,196.80Q1129.44,192.80 1133.44,192.80L1175.44,192.80Q1179.44,192.80 1179.44,196.80L1179.44,225.00L1129.44,225.00Z" fill="#4db6ac" fill-opacity="0.5" stroke="#4db6ac" stroke-width="1"/>
<path d="M1129.44,365.50L1179.44,365.50L1179.44,367.30L1129.44,367.30Z" fill="#8353d1" fill-opacity="0.5" stroke="#8353d1" stroke-width="1"/>
<path d="M1129.44,367.30L1179.44,367.30L1179.44,400.10Q1179.44,404.10 1175.44,404.10L1133.44,404.10Q1129.44,404.10 1129.44,400.10Z" fill="#f06292" fill-opacity="0.5" stroke="#f06292" stroke-width="1"/>
<path d="M1221.41,333.10L1271.41,333.10L1271.41,365.50L1221.41,365.50Z" fill="#ff9800" fill-opacity="0.5" stroke="#ff9800" stroke-width="1"/>
<path d="M1221.41,248.90L1271.41,248.90L1271.41,333.10L1221.41,333.10Z" fill="#0055ff" fill-opacity="0.5" stroke="#0055ff" stroke-width="1"/>
<path d="M1221.41,229.70L1271.41,229.70L1271.41,248.90L1221.41,248.90Z" fill="#0000ff" fill-opacity="0.5" stroke="#0000ff" stroke-width="1"/>
<path d="M1221.41,210.50Q1221.41,206.50 1225.41,206.50L1267.41,206.50Q1271.41,206.50 1271.41,210.50L1271.41,229.70L1221.41,229.70Z" fill="#4db6ac" fill-opacity="0.5" stroke="#4db6ac" stroke-width="1"/>
<path d="M1221.41,365.50L1271.41,365.50L1271.41,366.50L1221.41,366.50Z" fill="#8353d1" fill-opacity="0.5" stroke="#8353d1" stroke-width="1"/>
<path d="M1221.41,366.50L1271.41,366.50L1271.41,390.90Q1271.41,394.90 1267.41,394.90L1225.41,394.90Q1221.41,394.90 1221.41,390.90Z" fill="#f06292" fill-opacity="0.5" stroke="#f06292" stroke-width="1"/>
<path d="M1310.41,341.30L1360.41,341.30L1360.41,365.50L1310.41,365.50Z" fill="#ff9800" fill-opacity="0.5" stroke="#ff9800" stroke-width="1"/>
<path d="M1310.41,254.30L1360.41,254.30L1360.41,341.30L1310.41,341.30Z" fill="#0055ff" fill-opacity="0.5" stroke="#0055ff" stroke-width="1"/>
<path d="M1310.41,229.70L1360.41,229.70L1360.41,254.30L1310.41,254.30Z" fill="#0000ff" fill-opacity="0.5" stroke="#0000ff" stroke-width="1"/>
<path d="M1310.41,217.50Q1310.41,213.50 1314.41,213.50L1356.41,213.50Q1360.41,213.50 1360.41,217.50L1360.41,229.70L1310.41,229.70Z" fill="#4db6ac" fill-opacity="0.5" stroke="#4db6ac" stroke-width="1"/>
<path d="M1310.41,365.50L1360.41,365.50L1360.41,366.30L1310.41,366.30Z" fill="#8353d1" fill-opacity="0.5" stroke="#8353d1" stroke-width="1"/>
<path d="M1310.41,366.30L1360.41,366.30L1360.41,382.60Q1360.41,386.60 1356.41,386.60L1314.41,386.60Q1310.41,386.60 1310.41,382.60Z" fill="#f06292" fill-opacity="0.5" stroke="#f06292" stroke-width="1"/>
</g></svg>
<svg class="abs" style="left:264px;top:498px" width="1112" height="426" viewBox="264 498 1112 426" font-family='"Liberation Sans", sans-serif' >
<path d="M307.5,579.5H1360" stroke="#e0e0e0"/><path d="M307.5,623.5H1360" stroke="#e0e0e0"/><path d="M307.5,667.5H1360" stroke="#e0e0e0"/><path d="M307.5,711.5H1360" stroke="#e0e0e0"/><path d="M307.5,755.5H1360" stroke="#e0e0e0"/><path d="M307.5,799.5H1360" stroke="#e0e0e0"/><path d="M307.5,844.5H1360" stroke="#e0e0e0"/><path d="M307.5,888.5H1360" stroke="#e0e0e0"/><path d="M336.5,579V888.5" stroke="#e0e0e0"/><path d="M426.5,579V888.5" stroke="#e0e0e0"/><path d="M518.5,579V888.5" stroke="#e0e0e0"/><path d="M611.5,579V888.5" stroke="#e0e0e0"/><path d="M695.5,579V888.5" stroke="#e0e0e0"/><path d="M787.5,579V888.5" stroke="#e0e0e0"/><path d="M877.5,579V888.5" stroke="#e0e0e0"/><path d="M970.5,579V888.5" stroke="#e0e0e0"/><path d="M1060.5,579V888.5" stroke="#e0e0e0"/><path d="M1152.5,579V888.5" stroke="#e0e0e0"/><path d="M1245.5,579V888.5" stroke="#e0e0e0"/><path d="M1335.5,579V888.5" stroke="#e0e0e0"/><path d="M1359.5,579V888.5" stroke="#e0e0e0"/><path d="M312.5,579V888.5" stroke="#adadad"/><text x="304.5" y="582.0" font-size="12" text-anchor="end" fill="#212121" >700</text><text x="304.5" y="626.1" font-size="12" text-anchor="end" fill="#212121" >600</text><text x="304.5" y="670.3" font-size="12" text-anchor="end" fill="#212121" >500</text><text x="304.5" y="714.4" font-size="12" text-anchor="end" fill="#212121" >400</text><text x="304.5" y="758.5" font-size="12" text-anchor="end" fill="#212121" >300</text><text x="304.5" y="802.6" font-size="12" text-anchor="end" fill="#212121" >200</text><text x="304.5" y="846.7" font-size="12" text-anchor="end" fill="#212121" >100</text><text x="304.5" y="890.9" font-size="12" text-anchor="end" fill="#212121" >0</text><text x="336.5" y="904.8" font-size="12" text-anchor="middle" fill="#212121" >novembre</text><text x="426.2" y="904.8" font-size="12" text-anchor="middle" fill="#212121" >décembre</text><text x="518.9" y="904.8" font-size="12" text-anchor="middle" fill="#212121" font-weight="700" >janvier 2025</text><text x="611.6" y="904.8" font-size="12" text-anchor="middle" fill="#212121" >février</text><text x="695.3" y="904.8" font-size="12" text-anchor="middle" fill="#212121" >mars</text><text x="788.0" y="904.8" font-size="12" text-anchor="middle" fill="#212121" >avril</text><text x="877.7" y="904.8" font-size="12" text-anchor="middle" fill="#212121" >mai</text><text x="970.4" y="904.8" font-size="12" text-anchor="middle" fill="#212121" >juin</text><text x="1060.1" y="904.8" font-size="12" text-anchor="middle" fill="#212121" >juillet</text><text x="1152.8" y="904.8" font-size="12" text-anchor="middle" fill="#212121" >août</text><text x="1245.5" y="904.8" font-size="12" text-anchor="middle" fill="#212121" >septembre</text><text x="1335.2" y="904.8" font-size="12" text-anchor="middle" fill="#212121" >octobre</text><text x="312.8" y="574.1" font-size="12" text-anchor="start" fill="#333" textLength="22.8" lengthAdjust="spacingAndGlyphs" >kWh</text>
<path d="M336.5,888.5v5" stroke="#d4d4d4"/>
<path d="M426.5,888.5v5" stroke="#d4d4d4"/>
<path d="M518.5,888.5v5" stroke="#d4d4d4"/>
<path d="M611.5,888.5v5" stroke="#d4d4d4"/>
<path d="M695.5,888.5v5" stroke="#d4d4d4"/>
<path d="M787.5,888.5v5" stroke="#d4d4d4"/>
<path d="M877.5,888.5v5" stroke="#d4d4d4"/>
<path d="M970.5,888.5v5" stroke="#d4d4d4"/>
<path d="M1060.5,888.5v5" stroke="#d4d4d4"/>
<path d="M1152.5,888.5v5" stroke="#d4d4d4"/>
<path d="M1245.5,888.5v5" stroke="#d4d4d4"/>
<path d="M1335.5,888.5v5" stroke="#d4d4d4"/>
<clipPath id="c2"><rect x="311.0" y="570" width="1049.0" height="319.0"/></clipPath><g clip-path="url(#c2)">
<path d="M311.50,847.50Q311.50,843.50 315.50,843.50L357.50,843.50Q361.50,843.50 361.50,847.50L361.50,888.50L311.50,888.50Z" fill="#ff9800" fill-opacity="0.5" stroke="#ff9800" stroke-width="1"/>
<path d="M401.20,865.40Q401.20,861.40 405.20,861.40L447.20,861.40Q451.20,861.40 451.20,865.40L451.20,888.50L401.20,888.50Z" fill="#ff9800" fill-opacity="0.5" stroke="#ff9800" stroke-width="1"/>
<path d="M493.89,853.50Q493.89,849.50 497.89,849.50L539.89,849.50Q543.89,849.50 543.89,853.50L543.89,888.50L493.89,888.50Z" fill="#ff9800" fill-opacity="0.5" stroke="#ff9800" stroke-width="1"/>
<path d="M586.58,811.40Q586.58,807.40 590.58,807.40L632.58,807.40Q636.58,807.40 636.58,811.40L636.58,888.50L586.58,888.50Z" fill="#ff9800" fill-opacity="0.5" stroke="#ff9800" stroke-width="1"/>
<path d="M670.30,705.40Q670.30,701.40 674.30,701.40L716.30,701.40Q720.30,701.40 720.30,705.40L720.30,888.50L670.30,888.50Z" fill="#ff9800" fill-opacity="0.5" stroke="#ff9800" stroke-width="1"/>
<path d="M762.99,644.40Q762.99,640.40 766.99,640.40L808.99,640.40Q812.99,640.40 812.99,644.40L812.99,888.50L762.99,888.50Z" fill="#ff9800" fill-opacity="0.5" stroke="#ff9800" stroke-width="1"/>
<path d="M852.69,619.10Q852.69,615.10 856.69,615.10L898.69,615.10Q902.69,615.10 902.69,619.10L902.69,888.50L852.69,888.50Z" fill="#ff9800" fill-opacity="0.5" stroke="#ff9800" stroke-width="1"/>
<path d="M945.38,625.50Q945.38,621.50 949.38,621.50L991.38,621.50Q995.38,621.50 995.38,625.50L995.38,888.50L945.38,888.50Z" fill="#ff9800" fill-opacity="0.5" stroke="#ff9800" stroke-width="1"/>
<path d="M1035.08,685.20Q1035.08,681.20 1039.08,681.20L1081.08,681.20Q1085.08,681.20 1085.08,685.20L1085.08,888.50L1035.08,888.50Z" fill="#ff9800" fill-opacity="0.5" stroke="#ff9800" stroke-width="1"/>
<path d="M1127.77,632.30Q1127.77,628.30 1131.77,628.30L1173.77,628.30Q1177.77,628.30 1177.77,632.30L1177.77,888.50L1127.77,888.50Z" fill="#ff9800" fill-opacity="0.5" stroke="#ff9800" stroke-width="1"/>
<path d="M1220.46,706.70Q1220.46,702.70 1224.46,702.70L1266.46,702.70Q1270.46,702.70 1270.46,706.70L1270.46,888.50L1220.46,888.50Z" fill="#ff9800" fill-opacity="0.5" stroke="#ff9800" stroke-width="1"/>
<path d="M1310.16,756.10Q1310.16,752.10 1314.16,752.10L1356.16,752.10Q1360.16,752.10 1360.16,756.10L1360.16,888.50L1310.16,888.50Z" fill="#ff9800" fill-opacity="0.5" stroke="#ff9800" stroke-width="1"/>
</g>
<rect x="1262.5" y="515.5" width="97" height="37" rx="7" fill="#fff" stroke="#e0e0e0"/>
<text x="1311.0" y="537.8" font-size="14" text-anchor="middle" fill="#212121" font-weight="700" textLength="79.7" lengthAdjust="spacingAndGlyphs" >4 418,96 kWh</text>
</svg>
<div class="abs" style="left:264px;top:932px;width:1112px;height:792px;overflow:hidden;border-radius:12px">
<div class="row" style="top:60px;border-top:none;height:55px;font-weight:bold;font-size:12.2px;letter-spacing:-0.12px"><span class="n" style="line-height:55px">Source</span><span class="e" style="line-height:55px">Énergie</span><span class="c" style="line-height:55px">Coût</span></div>
<div class="row" style="top:115px">
<i style="border-color:#ff9800;background:rgba(255,152,0,0.5)"></i>
<span class="n">Solarman Daily Production</span><span class="e">4 418,96 kWh</span><span class="c"></span></div>
<div class="row tot" style="top:167px">
<span class="n">Total production solaire</span><span class="e">4 418,96 kWh</span><span class="c"></span></div>
<div class="row" style="top:219px">
<i style="border-color:#4db6ac;background:rgba(77,182,172,0.5)"></i>
<span class="n">Solarman Battery Total Energy Dischaged</span><span class="e">2 080 kWh</span><span class="c"></span></div>
<div class="row" style="top:271px">
<i style="border-color:#f06292;background:rgba(240,98,146,0.5)"></i>
<span class="n">Solarman Battery Total Energy Charged</span><span class="e">-2 605 kWh</span><span class="c"></span></div>
<div class="row tot" style="top:323px">
<span class="n">Batterie totale</span><span class="e">-525 kWh</span><span class="c"></span></div>
<div class="row" style="top:375px">
<i style="border-color:#0055ff;background:rgba(0,85,255,0.5)"></i>
<span class="n">linky_total_template_bleu_hc</span><span class="e">6 887,17 kWh</span><span class="c">878,34 €</span></div>
<div class="row" style="top:427px">
<i style="border-color:#0000ff;background:rgba(0,0,255,0.5)"></i>
<span class="n">linky_total_template_bleu_hp</span><span class="e">1 796,83 kWh</span><span class="c">281,24 €</span></div>
<div class="row" style="top:479px">
<i style="border-color:#ffffe0;background:rgba(255,255,224,0.5)"></i>
<span class="n">linky_total_template_blanc_hc</span><span class="e">469,49 kWh</span><span class="c">69,60 €</span></div>
<div class="row" style="top:531px">
<i style="border-color:#a9a9a9;background:rgba(169,169,169,0.5)"></i>
<span class="n">linky_total_template_blanc_hp</span><span class="e">204,78 kWh</span><span class="c">38,78 €</span></div>
<div class="row" style="top:583px">
<i style="border-color:#ff4d4d;background:rgba(255,77,77,0.5)"></i>
<span class="n">linky_total_template_rouge_hc</span><span class="e">597,68 kWh</span><span class="c">93,30 €</span></div>
<div class="row" style="top:635px">
<i style="border-color:#ff0000;background:rgba(255,0,0,0.5)"></i>
<span class="n">linky_total_template_rouge_hp</span><span class="e">83,59 kWh</span><span class="c">63,06 €</span></div>
<div class="row" style="top:687px">
<i style="border-color:#8353d1;background:rgba(131,83,209,0.5)"></i>
<span class="n">Solarman Today Grid Return</span><span class="e">-103,98 kWh</span><span class="c">-0,00 €</span></div>
<div class="row tot" style="top:739px">
<span class="n">Total du réseau</span><span class="e">9 935,55 kWh</span><span class="c">1 424,31 €</span></div>
</div>
<svg class="abs" style="left:264px;top:1732px" width="1112" height="462" viewBox="264 1732 1112 462" font-family='"Liberation Sans", sans-serif' >
<path d="M315.5,1813.5H1360" stroke="#e0e0e0"/><path d="M315.5,1864.5H1360" stroke="#e0e0e0"/><path d="M315.5,1916.5H1360" stroke="#e0e0e0"/><path d="M315.5,1967.5H1360" stroke="#e0e0e0"/><path d="M315.5,2019.5H1360" stroke="#e0e0e0"/><path d="M315.5,2070.5H1360" stroke="#e0e0e0"/><path d="M315.5,2122.5H1360" stroke="#e0e0e0"/><path d="M344.5,1813V2122" stroke="#e0e0e0"/><path d="M433.5,1813V2122" stroke="#e0e0e0"/><path d="M525.5,1813V2122" stroke="#e0e0e0"/><path d="M617.5,1813V2122" stroke="#e0e0e0"/><path d="M700.5,1813V2122" stroke="#e0e0e0"/><path d="M792.5,1813V2122" stroke="#e0e0e0"/><path d="M881.5,1813V2122" stroke="#e0e0e0"/><path d="M973.5,1813V2122" stroke="#e0e0e0"/><path d="M1062.5,1813V2122" stroke="#e0e0e0"/><path d="M1154.5,1813V2122" stroke="#e0e0e0"/><path d="M1246.5,1813V2122" stroke="#e0e0e0"/><path d="M1335.5,1813V2122" stroke="#e0e0e0"/><path d="M1359.5,1813V2122" stroke="#e0e0e0"/><path d="M320.5,1813V2122" stroke="#adadad"/><text x="312.5" y="1816.0" font-size="12" text-anchor="end" fill="#212121" >2 000</text><text x="312.5" y="1867.5" font-size="12" text-anchor="end" fill="#212121" >1 500</text><text x="312.5" y="1918.9" font-size="12" text-anchor="end" fill="#212121" >1 000</text><text x="312.5" y="1970.4" font-size="12" text-anchor="end" fill="#212121" >500</text><text x="312.5" y="2021.8" font-size="12" text-anchor="end" fill="#212121" >0</text><text x="312.5" y="2073.3" font-size="12" text-anchor="end" fill="#212121" >500</text><text x="312.5" y="2124.7" font-size="12" text-anchor="end" fill="#212121" >1 000</text><text x="344.3" y="2139.3" font-size="12" text-anchor="middle" fill="#212121" >novembre</text><text x="433.3" y="2139.3" font-size="12" text-anchor="middle" fill="#212121" >décembre</text><text x="525.3" y="2139.3" font-size="12" text-anchor="middle" fill="#212121" font-weight="700" >janvier 2025</text><text x="617.2" y="2139.3" font-size="12" text-anchor="middle" fill="#212121" >février</text><text x="700.3" y="2139.3" font-size="12" text-anchor="middle" fill="#212121" >mars</text><text x="792.3" y="2139.3" font-size="12" text-anchor="middle" fill="#212121" >avril</text><text x="881.3" y="2139.3" font-size="12" text-anchor="middle" fill="#212121" >mai</text><text x="973.3" y="2139.3" font-size="12" text-anchor="middle" fill="#212121" >juin</text><text x="1062.3" y="2139.3" font-size="12" text-anchor="middle" fill="#212121" >juillet</text><text x="1154.2" y="2139.3" font-size="12" text-anchor="middle" fill="#212121" >août</text><text x="1246.2" y="2139.3" font-size="12" text-anchor="middle" fill="#212121" >septembre</text><text x="1335.2" y="2139.3" font-size="12" text-anchor="middle" fill="#212121" >octobre</text><text x="320.8" y="1808.5" font-size="12" text-anchor="start" fill="#333" textLength="22.8" lengthAdjust="spacingAndGlyphs" >kWh</text>
<path d="M344.5,2019.5v5" stroke="#d0d0d0"/>
<path d="M433.5,2019.5v5" stroke="#d0d0d0"/>
<path d="M525.5,2019.5v5" stroke="#d0d0d0"/>
<path d="M617.5,2019.5v5" stroke="#d0d0d0"/>
<path d="M700.5,2019.5v5" stroke="#d0d0d0"/>
<path d="M792.5,2019.5v5" stroke="#d0d0d0"/>
<path d="M881.5,2019.5v5" stroke="#d0d0d0"/>
<path d="M973.5,2019.5v5" stroke="#d0d0d0"/>
<path d="M1062.5,2019.5v5" stroke="#d0d0d0"/>
<path d="M1154.5,2019.5v5" stroke="#d0d0d0"/>
<path d="M1246.5,2019.5v5" stroke="#d0d0d0"/>
<path d="M1335.5,2019.5v5" stroke="#d0d0d0"/>
<clipPath id="c3"><rect x="317.5" y="1805" width="1042.5" height="320"/></clipPath><g clip-path="url(#c3)">
<path d="M319.50,1968.80L369.10,1968.80L369.10,2019.50L319.50,2019.50Z" fill="#4269d0" fill-opacity="0.5" stroke="#4269d0" stroke-width="1"/>
<path d="M319.50,1953.80L369.10,1953.80L369.10,1968.80L319.50,1968.80Z" fill="#f4bd4a" fill-opacity="0.5" stroke="#f4bd4a" stroke-width="1"/>
<path d="M319.50,1937.20L369.10,1937.20L369.10,1953.80L319.50,1953.80Z" fill="#ff725c" fill-opacity="0.5" stroke="#ff725c" stroke-width="1"/>
<path d="M319.50,1927.30L369.10,1927.30L369.10,1937.20L319.50,1937.20Z" fill="#9c6b4e" fill-opacity="0.5" stroke="#9c6b4e" stroke-width="1"/>
<path d="M319.50,1925.40L369.10,1925.40L369.10,1927.30L319.50,1927.30Z" fill="#ff8ab7" fill-opacity="0.5" stroke="#ff8ab7" stroke-width="1"/>
<path d="M319.50,1924.10L369.10,1924.10L369.10,1925.40L319.50,1925.40Z" fill="#97bbf5" fill-opacity="0.5" stroke="#97bbf5" stroke-width="1"/>
<path d="M319.50,1921.50L369.10,1921.50L369.10,1924.10L319.50,1924.10Z" fill="#6cc5b0" fill-opacity="0.5" stroke="#6cc5b0" stroke-width="1"/>
<path d="M319.50,1881.60Q319.50,1877.60 323.50,1877.60L365.10,1877.60Q369.10,1877.60 369.10,1881.60L369.10,1921.50L319.50,1921.50Z" fill="#616161" fill-opacity="0.5" stroke="#616161" stroke-width="1"/>
<path d="M408.50,1972.50L458.10,1972.50L458.10,2019.50L408.50,2019.50Z" fill="#4269d0" fill-opacity="0.5" stroke="#4269d0" stroke-width="1"/>
<path d="M408.50,1957.50L458.10,1957.50L458.10,1972.50L408.50,1972.50Z" fill="#f4bd4a" fill-opacity="0.5" stroke="#f4bd4a" stroke-width="1"/>
<path d="M408.50,1935.90L458.10,1935.90L458.10,1957.50L408.50,1957.50Z" fill="#ff725c" fill-opacity="0.5" stroke="#ff725c" stroke-width="1"/>
<path d="M408.50,1933.80L458.10,1933.80L458.10,1935.90L408.50,1935.90Z" fill="#ff8ab7" fill-opacity="0.5" stroke="#ff8ab7" stroke-width="1"/>
<path d="M408.50,1932.50L458.10,1932.50L458.10,1933.80L408.50,1933.80Z" fill="#97bbf5" fill-opacity="0.5" stroke="#97bbf5" stroke-width="1"/>
<path d="M408.50,1929.90L458.10,1929.90L458.10,1932.50L408.50,1932.50Z" fill="#6cc5b0" fill-opacity="0.5" stroke="#6cc5b0" stroke-width="1"/>
<path d="M408.50,1889.70Q408.50,1885.70 412.50,1885.70L454.10,1885.70Q458.10,1885.70 458.10,1889.70L458.10,1929.90L408.50,1929.90Z" fill="#616161" fill-opacity="0.5" stroke="#616161" stroke-width="1"/>
<path d="M500.47,1977.20L550.07,1977.20L550.07,2019.50L500.47,2019.50Z" fill="#4269d0" fill-opacity="0.5" stroke="#4269d0" stroke-width="1"/>
<path d="M500.47,1959.60L550.07,1959.60L550.07,1977.20L500.47,1977.20Z" fill="#f4bd4a" fill-opacity="0.5" stroke="#f4bd4a" stroke-width="1"/>
<path d="M500.47,1929.40L550.07,1929.40L550.07,1959.60L500.47,1959.60Z" fill="#ff725c" fill-opacity="0.5" stroke="#ff725c" stroke-width="1"/>
<path d="M500.47,1927.50L550.07,1927.50L550.07,1929.40L500.47,1929.40Z" fill="#ff8ab7" fill-opacity="0.5" stroke="#ff8ab7" stroke-width="1"/>
<path d="M500.47,1926.50L550.07,1926.50L550.07,1927.50L500.47,1927.50Z" fill="#97bbf5" fill-opacity="0.5" stroke="#97bbf5" stroke-width="1"/>
<path d="M500.47,1923.30L550.07,1923.30L550.07,1926.50L500.47,1926.50Z" fill="#6cc5b0" fill-opacity="0.5" stroke="#6cc5b0" stroke-width="1"/>
<path d="M500.47,1883.40Q500.47,1879.40 504.47,1879.40L546.07,1879.40Q550.07,1879.40 550.07,1883.40L550.07,1923.30L500.47,1923.30Z" fill="#616161" fill-opacity="0.5" stroke="#616161" stroke-width="1"/>
<path d="M592.45,1975.90L642.05,1975.90L642.05,2019.50L592.45,2019.50Z" fill="#4269d0" fill-opacity="0.5" stroke="#4269d0" stroke-width="1"/>
<path d="M592.45,1964.10L642.05,1964.10L642.05,1975.90L592.45,1975.90Z" fill="#f4bd4a" fill-opacity="0.5" stroke="#f4bd4a" stroke-width="1"/>
<path d="M592.45,1936.20L642.05,1936.20L642.05,1964.10L592.45,1964.10Z" fill="#ff725c" fill-opacity="0.5" stroke="#ff725c" stroke-width="1"/>
<path d="M592.45,1934.40L642.05,1934.40L642.05,1936.20L592.45,1936.20Z" fill="#ff8ab7" fill-opacity="0.5" stroke="#ff8ab7" stroke-width="1"/>
<path d="M592.45,1933.30L642.05,1933.30L642.05,1934.40L592.45,1934.40Z" fill="#97bbf5" fill-opacity="0.5" stroke="#97bbf5" stroke-width="1"/>
<path d="M592.45,1930.70L642.05,1930.70L642.05,1933.30L592.45,1933.30Z" fill="#6cc5b0" fill-opacity="0.5" stroke="#6cc5b0" stroke-width="1"/>
<path d="M592.45,1896.30Q592.45,1892.30 596.45,1892.30L638.05,1892.30Q642.05,1892.30 642.05,1896.30L642.05,1930.70L592.45,1930.70Z" fill="#616161" fill-opacity="0.5" stroke="#616161" stroke-width="1"/>
<path d="M675.52,1959.90L725.12,1959.90L725.12,2019.50L675.52,2019.50Z" fill="#4269d0" fill-opacity="0.5" stroke="#4269d0" stroke-width="1"/>
<path d="M675.52,1946.40L725.12,1946.40L725.12,1959.90L675.52,1959.90Z" fill="#f4bd4a" fill-opacity="0.5" stroke="#f4bd4a" stroke-width="1"/>
<path d="M675.52,1933.30L725.12,1933.30L725.12,1946.40L675.52,1946.40Z" fill="#ff725c" fill-opacity="0.5" stroke="#ff725c" stroke-width="1"/>
<path d="M675.52,1931.50L725.12,1931.50L725.12,1933.30L675.52,1933.30Z" fill="#ff8ab7" fill-opacity="0.5" stroke="#ff8ab7" stroke-width="1"/>
<path d="M675.52,1930.40L725.12,1930.40L725.12,1931.50L675.52,1931.50Z" fill="#97bbf5" fill-opacity="0.5" stroke="#97bbf5" stroke-width="1"/>
<path d="M675.52,1927.80L725.12,1927.80L725.12,1930.40L675.52,1930.40Z" fill="#6cc5b0" fill-opacity="0.5" stroke="#6cc5b0" stroke-width="1"/>
<path d="M675.52,1888.40Q675.52,1884.40 679.52,1884.40L721.12,1884.40Q725.12,1884.40 725.12,1888.40L725.12,1927.80L675.52,1927.80Z" fill="#616161" fill-opacity="0.5" stroke="#616161" stroke-width="1"/>
<path d="M767.49,1961.40L817.09,1961.40L817.09,2019.50L767.49,2019.50Z" fill="#4269d0" fill-opacity="0.5" stroke="#4269d0" stroke-width="1"/>
<path d="M767.49,1950.40L817.09,1950.40L817.09,1961.40L767.49,1961.40Z" fill="#f4bd4a" fill-opacity="0.5" stroke="#f4bd4a" stroke-width="1"/>
<path d="M767.49,1947.00L817.09,1947.00L817.09,1950.40L767.49,1950.40Z" fill="#ff725c" fill-opacity="0.5" stroke="#ff725c" stroke-width="1"/>
<path d="M767.49,1940.90L817.09,1940.90L817.09,1947.00L767.49,1947.00Z" fill="#9c6b4e" fill-opacity="0.5" stroke="#9c6b4e" stroke-width="1"/>
<path d="M767.49,1939.30L817.09,1939.30L817.09,1940.90L767.49,1940.90Z" fill="#ff8ab7" fill-opacity="0.5" stroke="#ff8ab7" stroke-width="1"/>
<path d="M767.49,1938.30L817.09,1938.30L817.09,1939.30L767.49,1939.30Z" fill="#97bbf5" fill-opacity="0.5" stroke="#97bbf5" stroke-width="1"/>
<path d="M767.49,1935.90L817.09,1935.90L817.09,1938.30L767.49,1938.30Z" fill="#6cc5b0" fill-opacity="0.5" stroke="#6cc5b0" stroke-width="1"/>
<path d="M767.49,1899.70Q767.49,1895.70 771.49,1895.70L813.09,1895.70Q817.09,1895.70 817.09,1899.70L817.09,1935.90L767.49,1935.90Z" fill="#616161" fill-opacity="0.5" stroke="#616161" stroke-width="1"/>
<path d="M856.49,1963.30L906.09,1963.30L906.09,2019.50L856.49,2019.50Z" fill="#4269d0" fill-opacity="0.5" stroke="#4269d0" stroke-width="1"/>
<path d="M856.49,1949.30L906.09,1949.30L906.09,1963.30L856.49,1963.30Z" fill="#f4bd4a" fill-opacity="0.5" stroke="#f4bd4a" stroke-width="1"/>
<path d="M856.49,1948.80L906.09,1948.80L906.09,1949.30L856.49,1949.30Z" fill="#ff725c" fill-opacity="0.5" stroke="#ff725c" stroke-width="1"/>
<path d="M856.49,1941.50L906.09,1941.50L906.09,1948.80L856.49,1948.80Z" fill="#9c6b4e" fill-opacity="0.5" stroke="#9c6b4e" stroke-width="1"/>
<path d="M856.49,1939.50L906.09,1939.50L906.09,1941.50L856.49,1941.50Z" fill="#ff8ab7" fill-opacity="0.5" stroke="#ff8ab7" stroke-width="1"/>
<path d="M856.49,1938.30L906.09,1938.30L906.09,1939.50L856.49,1939.50Z" fill="#97bbf5" fill-opacity="0.5" stroke="#97bbf5" stroke-width="1"/>
<path d="M856.49,1936.20L906.09,1936.20L906.09,1938.30L856.49,1938.30Z" fill="#6cc5b0" fill-opacity="0.5" stroke="#6cc5b0" stroke-width="1"/>
<path d="M856.49,1899.20Q856.49,1895.20 860.49,1895.20L902.09,1895.20Q906.09,1895.20 906.09,1899.20L906.09,1936.20L856.49,1936.20Z" fill="#616161" fill-opacity="0.5" stroke="#616161" stroke-width="1"/>
<path d="M948.46,1981.40L998.06,1981.40L998.06,2019.50L948.46,2019.50Z" fill="#4269d0" fill-opacity="0.5" stroke="#4269d0" stroke-width="1"/>
<path d="M948.46,1972.20L998.06,1972.20L998.06,1981.40L948.46,1981.40Z" fill="#f4bd4a" fill-opacity="0.5" stroke="#f4bd4a" stroke-width="1"/>
<path d="M948.46,1960.40L998.06,1960.40L998.06,1972.20L948.46,1972.20Z" fill="#9c6b4e" fill-opacity="0.5" stroke="#9c6b4e" stroke-width="1"/>
<path d="M948.46,1958.30L998.06,1958.30L998.06,1960.40L948.46,1960.40Z" fill="#ff8ab7" fill-opacity="0.5" stroke="#ff8ab7" stroke-width="1"/>
<path d="M948.46,1957.50L998.06,1957.50L998.06,1958.30L948.46,1958.30Z" fill="#97bbf5" fill-opacity="0.5" stroke="#97bbf5" stroke-width="1"/>
<path d="M948.46,1955.10L998.06,1955.10L998.06,1957.50L948.46,1957.50Z" fill="#6cc5b0" fill-opacity="0.5" stroke="#6cc5b0" stroke-width="1"/>
<path d="M948.46,1917.60Q948.46,1913.60 952.46,1913.60L994.06,1913.60Q998.06,1913.60 998.06,1917.60L998.06,1955.10L948.46,1955.10Z" fill="#616161" fill-opacity="0.5" stroke="#616161" stroke-width="1"/>
<path d="M1037.47,2003.80L1087.07,2003.80L1087.07,2019.50L1037.47,2019.50Z" fill="#4269d0" fill-opacity="0.5" stroke="#4269d0" stroke-width="1"/>
<path d="M1037.47,2000.40L1087.07,2000.40L1087.07,2003.80L1037.47,2003.80Z" fill="#f4bd4a" fill-opacity="0.5" stroke="#f4bd4a" stroke-width="1"/>
<path d="M1037.47,1989.60L1087.07,1989.60L1087.07,2000.40L1037.47,2000.40Z" fill="#9c6b4e" fill-opacity="0.5" stroke="#9c6b4e" stroke-width="1"/>
<path d="M1037.47,1988.50L1087.07,1988.50L1087.07,1989.60L1037.47,1989.60Z" fill="#ff8ab7" fill-opacity="0.5" stroke="#ff8ab7" stroke-width="1"/>
<path d="M1037.47,1987.70L1087.07,1987.70L1087.07,1988.50L1037.47,1988.50Z" fill="#6cc5b0" fill-opacity="0.5" stroke="#6cc5b0" stroke-width="1"/>
<path d="M1037.47,1963.30Q1037.47,1959.30 1041.47,1959.30L1083.07,1959.30Q1087.07,1959.30 1087.07,1963.30L1087.07,1987.70L1037.47,1987.70Z" fill="#616161" fill-opacity="0.5" stroke="#616161" stroke-width="1"/>
<path d="M1129.44,1974.60L1179.04,1974.60L1179.04,2019.50L1129.44,2019.50Z" fill="#4269d0" fill-opacity="0.5" stroke="#4269d0" stroke-width="1"/>
<path d="M1129.44,1966.70L1179.04,1966.70L1179.04,1974.60L1129.44,1974.60Z" fill="#f4bd4a" fill-opacity="0.5" stroke="#f4bd4a" stroke-width="1"/>
<path d="M1129.44,1955.40L1179.04,1955.40L1179.04,1966.70L1129.44,1966.70Z" fill="#9c6b4e" fill-opacity="0.5" stroke="#9c6b4e" stroke-width="1"/>
<path d="M1129.44,1951.70L1179.04,1951.70L1179.04,1955.40L1129.44,1955.40Z" fill="#ff8ab7" fill-opacity="0.5" stroke="#ff8ab7" stroke-width="1"/>
<path d="M1129.44,1833.40Q1129.44,1829.40 1133.44,1829.40L1175.04,1829.40Q1179.04,1829.40 1179.04,1833.40L1179.04,1951.70L1129.44,1951.70Z" fill="#616161" fill-opacity="0.5" stroke="#616161" stroke-width="1"/>
<path d="M1129.44,2019.50L1179.04,2019.50L1179.04,2024.80L1129.44,2024.80Z" fill="#a463f2" fill-opacity="0.5" stroke="#a463f2" stroke-width="1"/>
<path d="M1129.44,2024.80L1179.04,2024.80L1179.04,2083.10Q1179.04,2087.10 1175.04,2087.10L1133.44,2087.10Q1129.44,2087.10 1129.44,2083.10Z" fill="#6cc5b0" fill-opacity="0.5" stroke="#6cc5b0" stroke-width="1"/>
<path d="M1221.41,1976.40L1271.01,1976.40L1271.01,2019.50L1221.41,2019.50Z" fill="#4269d0" fill-opacity="0.5" stroke="#4269d0" stroke-width="1"/>
<path d="M1221.41,1966.20L1271.01,1966.20L1271.01,1976.40L1221.41,1976.40Z" fill="#f4bd4a" fill-opacity="0.5" stroke="#f4bd4a" stroke-width="1"/>
<path d="M1221.41,1960.40L1271.01,1960.40L1271.01,1966.20L1221.41,1966.20Z" fill="#9c6b4e" fill-opacity="0.5" stroke="#9c6b4e" stroke-width="1"/>
<path d="M1221.41,1957.50L1271.01,1957.50L1271.01,1960.40L1221.41,1960.40Z" fill="#ff8ab7" fill-opacity="0.5" stroke="#ff8ab7" stroke-width="1"/>
<path d="M1221.41,1954.90L1271.01,1954.90L1271.01,1957.50L1221.41,1957.50Z" fill="#97bbf5" fill-opacity="0.5" stroke="#97bbf5" stroke-width="1"/>
<path d="M1221.41,1911.50Q1221.41,1907.50 1225.41,1907.50L1267.01,1907.50Q1271.01,1907.50 1271.01,1911.50L1271.01,1954.90L1221.41,1954.90Z" fill="#616161" fill-opacity="0.5" stroke="#616161" stroke-width="1"/>
<path d="M1310.41,1979.60L1360.01,1979.60L1360.01,2019.50L1310.41,2019.50Z" fill="#4269d0" fill-opacity="0.5" stroke="#4269d0" stroke-width="1"/>
<path d="M1310.41,1967.50L1360.01,1967.50L1360.01,1979.60L1310.41,1979.60Z" fill="#f4bd4a" fill-opacity="0.5" stroke="#f4bd4a" stroke-width="1"/>
<path d="M1310.41,1962.50L1360.01,1962.50L1360.01,1967.50L1310.41,1967.50Z" fill="#9c6b4e" fill-opacity="0.5" stroke="#9c6b4e" stroke-width="1"/>
<path d="M1310.41,1959.60L1360.01,1959.60L1360.01,1962.50L1310.41,1962.50Z" fill="#ff8ab7" fill-opacity="0.5" stroke="#ff8ab7" stroke-width="1"/>
<path d="M1310.41,1956.70L1360.01,1956.70L1360.01,1959.60L1310.41,1959.60Z" fill="#6cc5b0" fill-opacity="0.5" stroke="#6cc5b0" stroke-width="1"/>
<path d="M1310.41,1916.50Q1310.41,1912.50 1314.41,1912.50L1356.01,1912.50Q1360.01,1912.50 1360.01,1916.50L1360.01,1956.70L1310.41,1956.70Z" fill="#616161" fill-opacity="0.5" stroke="#616161" stroke-width="1"/>
</g>
<circle cx="423.6" cy="2165.2" r="7.2" fill="#4269d0" fill-opacity="0.5" stroke="#4269d0"/>
<text x="435.7" y="2168.7" font-size="12" text-anchor="start" fill="#212121" textLength="43.4" lengthAdjust="spacingAndGlyphs" >Voitures</text>
<circle cx="499.6" cy="2165.2" r="7.2" fill="#f4bd4a" fill-opacity="0.5" stroke="#f4bd4a"/>
<text x="512.0" y="2168.7" font-size="12" text-anchor="start" fill="#212121" textLength="21.3" lengthAdjust="spacingAndGlyphs" >ECS</text>
<circle cx="553" cy="2165.2" r="7.2" fill="#ff725c" fill-opacity="0.5" stroke="#ff725c"/>
<text x="565.6" y="2168.7" font-size="12" text-anchor="start" fill="#212121" textLength="55.2" lengthAdjust="spacingAndGlyphs" >Chauffage</text>
<circle cx="641" cy="2165.2" r="7.2" fill="#9c6b4e" fill-opacity="0.5" stroke="#9c6b4e"/>
<text x="653.2" y="2168.7" font-size="12" text-anchor="start" fill="#212121" textLength="38.5" lengthAdjust="spacingAndGlyphs" >Piscine</text>
<circle cx="712" cy="2165.2" r="7.2" fill="#ff8ab7" fill-opacity="0.5" stroke="#ff8ab7"/>
<text x="724.2" y="2168.7" font-size="12" text-anchor="start" fill="#212121" textLength="54" lengthAdjust="spacingAndGlyphs" >Télé salon</text>
<circle cx="798" cy="2165.2" r="7.2" fill="#97bbf5" fill-opacity="0.5" stroke="#97bbf5"/>
<text x="810.2" y="2168.7" font-size="12" text-anchor="start" fill="#212121" textLength="51.5" lengthAdjust="spacingAndGlyphs" >Aquarium</text>
<circle cx="881.8" cy="2165.2" r="7.2" fill="#a463f2" fill-opacity="0.5" stroke="#a463f2"/>
<text x="894.3" y="2168.7" font-size="12" text-anchor="start" fill="#212121" textLength="53" lengthAdjust="spacingAndGlyphs" >Lave linge</text>
<circle cx="966.8" cy="2165.2" r="7.2" fill="#6cc5b0" fill-opacity="0.5" stroke="#6cc5b0"/>
<text x="979.0" y="2168.7" font-size="12" text-anchor="start" fill="#212121" textLength="74" lengthAdjust="spacingAndGlyphs" >Lave vaisselle</text>
<circle cx="1074" cy="2165.2" r="7.2" fill="#616161" fill-opacity="0.5" stroke="#616161"/>
<text x="1086.0" y="2168.7" font-size="12" text-anchor="start" fill="#212121" textLength="138.3" lengthAdjust="spacingAndGlyphs" >Consommation non suivie</text>
</svg>
<svg class="abs" style="left:264px;top:2202px" width="1112" height="376" viewBox="264 2202 1112 376" font-family='"Liberation Sans", sans-serif' >
<path d="M366.5,2267V2547" stroke="#d0d0d0"/>
<text x="367.0" y="2558.6" font-size="12" text-anchor="middle" fill="#212121" >0</text>
<path d="M522.5,2267V2547" stroke="#e0e0e0"/>
<text x="522.9" y="2558.6" font-size="12" text-anchor="middle" fill="#212121" >1,000</text>
<path d="M678.5,2267V2547" stroke="#e0e0e0"/>
<text x="678.8" y="2558.6" font-size="12" text-anchor="middle" fill="#212121" >2,000</text>
<path d="M834.5,2267V2547" stroke="#e0e0e0"/>
<text x="834.7" y="2558.6" font-size="12" text-anchor="middle" fill="#212121" >3,000</text>
<path d="M990.5,2267V2547" stroke="#e0e0e0"/>
<text x="990.6" y="2558.6" font-size="12" text-anchor="middle" fill="#212121" >4,000</text>
<path d="M1146.5,2267V2547" stroke="#e0e0e0"/>
<text x="1146.5" y="2558.6" font-size="12" text-anchor="middle" fill="#212121" >5,000</text>
<path d="M1302.5,2267V2547" stroke="#e0e0e0"/>
<text x="1302.4" y="2558.6" font-size="12" text-anchor="middle" fill="#212121" >6,000</text>
<path d="M367.0,2542.5H1304" stroke="#e0e0e0"/>
<text x="1329.0" y="2544.6" font-size="12" text-anchor="middle" fill="#333" textLength="22.8" lengthAdjust="spacingAndGlyphs" >kWh</text>
<text x="361.7" y="2286.6" font-size="12" text-anchor="end" fill="#212121" >Voitures</text>
<path d="M367.0,2274.2999999999997H1169.9384Q1173.9384,2274.2999999999997 1173.9384,2278.2999999999997V2290.7999999999997Q1173.9384,2294.7999999999997 1169.9384,2294.7999999999997H367.0Z" fill="#4269d0" fill-opacity="0.5" stroke="#4269d0"/>
<text x="361.7" y="2321.0" font-size="12" text-anchor="end" fill="#212121" >ECS</text>
<path d="M367.0,2308.7H573.1532Q577.1532,2308.7 577.1532,2312.7V2325.2Q577.1532,2329.2 573.1532,2329.2H367.0Z" fill="#f4bd4a" fill-opacity="0.5" stroke="#f4bd4a"/>
<text x="361.7" y="2355.4" font-size="12" text-anchor="end" fill="#212121" >Chauffage</text>
<path d="M367.0,2343.1H533.7105Q537.7105,2343.1 537.7105,2347.1V2359.6Q537.7105,2363.6 533.7105,2363.6H367.0Z" fill="#ff725c" fill-opacity="0.5" stroke="#ff725c"/>
<text x="361.7" y="2389.8" font-size="12" text-anchor="end" fill="#212121" >Piscine</text>
<path d="M367.0,2377.5H467.1412Q471.1412,2377.5 471.1412,2381.5V2394.0Q471.1412,2398.0 467.1412,2398.0H367.0Z" fill="#9c6b4e" fill-opacity="0.5" stroke="#9c6b4e"/>
<text x="361.7" y="2424.2" font-size="12" text-anchor="end" fill="#212121" >Télé salon</text>
<path d="M367.0,2411.9H407.8992Q411.8992,2411.9 411.8992,2415.9V2428.4Q411.8992,2432.4 407.8992,2432.4H367.0Z" fill="#ff8ab7" fill-opacity="0.5" stroke="#ff8ab7"/>
<text x="361.7" y="2458.6" font-size="12" text-anchor="end" fill="#212121" >Aquarium</text>
<path d="M367.0,2446.2999999999997H368.8975Q370.8975,2446.2999999999997 370.8975,2448.2999999999997V2464.7999999999997Q370.8975,2466.7999999999997 368.8975,2466.7999999999997H367.0Z" fill="#97bbf5" fill-opacity="0.5" stroke="#97bbf5"/>
<text x="361.7" y="2493.0" font-size="12" text-anchor="end" fill="#212121" >Lave vaisselle</text>
<path d="M367.0,2480.7H367.0Q367.4677,2480.7 367.4677,2481.1677V2500.7322999999997Q367.4677,2501.2 367.0,2501.2H367.0Z" fill="#6cc5b0" fill-opacity="0.5" stroke="#6cc5b0"/>
<text x="361.7" y="2527.4" font-size="12" text-anchor="end" fill="#212121" >Lave linge</text>
<path d="M367.0,2515.1H367.0Q367.9354,2515.1 367.9354,2516.0353999999998V2534.6646Q367.9354,2535.6 367.0,2535.6H367.0Z" fill="#a463f2" fill-opacity="0.5" stroke="#a463f2"/>
<g fill="none" stroke="#616161" stroke-width="2.8"><path d="M1344.3,2236.5A8.5,8.5 0 1 0 1339.5,2245.7"/><path d="M1341.5,2244.5A8.5,8.5 0 0 0 1344.4,2239.5"/></g>
</svg>
<svg class="abs" style="left:264px;top:2586px" width="1112" height="400" viewBox="264 2586 1112 400" font-family='"Liberation Sans", sans-serif' >
<linearGradient id="lg1" gradientUnits="userSpaceOnUse" x1="295" y1="0" x2="550" y2="0"><stop offset="0" stop-color="#4db6ac"/><stop offset="1" stop-color="#0099c6"/></linearGradient>
<path d="M295,2665.30C422.5,2665.30 422.5,2665.30 550,2665.30L550,2700.20C422.5,2700.20 422.5,2700.20 295,2700.20Z" fill="url(#lg1)" fill-opacity="0.4"/>
<linearGradient id="lg2" gradientUnits="userSpaceOnUse" x1="295" y1="0" x2="550" y2="0"><stop offset="0" stop-color="#488fc2"/><stop offset="1" stop-color="#0099c6"/></linearGradient>
<path d="M295,2706.80C422.5,2706.80 422.5,2700.20 550,2700.20L550,2865.40C422.5,2865.40 422.5,2872.00 295,2872.00Z" fill="url(#lg2)" fill-opacity="0.4"/>
<linearGradient id="lg3" gradientUnits="userSpaceOnUse" x1="295" y1="0" x2="550" y2="0"><stop offset="0" stop-color="#488fc2"/><stop offset="1" stop-color="#f06292"/></linearGradient>
<path d="M295,2872.00C422.5,2872.00 422.5,2912.70 550,2912.70L550,2915.00C422.5,2915.00 422.5,2876.00 295,2876.00Z" fill="url(#lg3)" fill-opacity="0.45"/>
<linearGradient id="lg4" gradientUnits="userSpaceOnUse" x1="295" y1="0" x2="550" y2="0"><stop offset="0" stop-color="#ff9800"/><stop offset="1" stop-color="#0099c6"/></linearGradient>
<path d="M295,2882.20C422.5,2882.20 422.5,2865.40 550,2865.40L550,2898.80C422.5,2898.80 422.5,2915.60 295,2915.60Z" fill="url(#lg4)" fill-opacity="0.4"/>
<linearGradient id="lg5" gradientUnits="userSpaceOnUse" x1="295" y1="0" x2="550" y2="0"><stop offset="0" stop-color="#ff9800"/><stop offset="1" stop-color="#8353d1"/></linearGradient>
<path d="M295,2915.60C422.5,2915.60 422.5,2905.00 550,2905.00L550,2906.50C422.5,2906.50 422.5,2917.10 295,2917.10Z" fill="url(#lg5)" fill-opacity="0.4"/>
<linearGradient id="lg6" gradientUnits="userSpaceOnUse" x1="295" y1="0" x2="550" y2="0"><stop offset="0" stop-color="#ff9800"/><stop offset="1" stop-color="#f06292"/></linearGradient>
<path d="M295,2917.10C422.5,2917.10 422.5,2915.00 550,2915.00L550,2956.60C422.5,2956.60 422.5,2956.60 295,2956.60Z" fill="url(#lg6)" fill-opacity="0.4"/>
<linearGradient id="lg7" gradientUnits="userSpaceOnUse" x1="295" y1="0" x2="550" y2="0"><stop offset="0" stop-color="#4db6ac"/><stop offset="1" stop-color="#8353d1"/></linearGradient>
<path d="M295,2700.00C422.5,2700.00 422.5,2905.00 550,2905.00L550,2905.60C422.5,2905.60 422.5,2700.50 295,2700.50Z" fill="url(#lg7)" fill-opacity="0.3"/>
<linearGradient id="lg8" gradientUnits="userSpaceOnUse" x1="565" y1="0" x2="820" y2="0"><stop offset="0" stop-color="#0099c6"/><stop offset="1" stop-color="#0099c6"/></linearGradient>
<path d="M565,2665.30C692.5,2665.30 692.5,2670.60 820,2670.60L820,2671.80C692.5,2671.80 692.5,2666.80 565,2666.80Z" fill="url(#lg8)" fill-opacity="0.4"/>
<linearGradient id="lg9" gradientUnits="userSpaceOnUse" x1="565" y1="0" x2="820" y2="0"><stop offset="0" stop-color="#0099c6"/><stop offset="1" stop-color="#0099c6"/></linearGradient>
<path d="M565,2666.80C692.5,2666.80 692.5,2683.90 820,2683.90L820,2812.30C692.5,2812.30 692.5,2795.20 565,2795.20Z" fill="url(#lg9)" fill-opacity="0.4"/>
<linearGradient id="lg10" gradientUnits="userSpaceOnUse" x1="565" y1="0" x2="820" y2="0"><stop offset="0" stop-color="#0099c6"/><stop offset="1" stop-color="#7c92bf"/></linearGradient>
<path d="M565,2795.20C692.5,2795.20 692.5,2823.50 820,2823.50L820,2827.70C692.5,2827.70 692.5,2799.40 565,2799.40Z" fill="url(#lg10)" fill-opacity="0.4"/>
<rect x="820" y="2823.50" width="15" height="4.20" fill="#7c92bf" fill-opacity="0.4"/>
<linearGradient id="lg12" gradientUnits="userSpaceOnUse" x1="835" y1="0" x2="1090" y2="0"><stop offset="0" stop-color="#8391be"/><stop offset="1" stop-color="#ff8ab7"/></linearGradient>
<path d="M835,2823.50C962.5,2823.50 962.5,2832.70 1090,2832.70L1090,2836.90C962.5,2836.90 962.5,2827.70 835,2827.70Z" fill="url(#lg12)" fill-opacity="0.4"/>
<linearGradient id="lg13" gradientUnits="userSpaceOnUse" x1="565" y1="0" x2="820" y2="0"><stop offset="0" stop-color="#0099c6"/><stop offset="1" stop-color="#4c838c"/></linearGradient>
<path d="M565,2799.40C692.5,2799.40 692.5,2839.00 820,2839.00L820,2850.10C692.5,2850.10 692.5,2810.50 565,2810.50Z" fill="url(#lg13)" fill-opacity="0.4"/>
<rect x="820" y="2839.00" width="15" height="11.10" fill="#4c838c" fill-opacity="0.4"/>
<linearGradient id="lg15" gradientUnits="userSpaceOnUse" x1="835" y1="0" x2="1090" y2="0"><stop offset="0" stop-color="#508188"/><stop offset="1" stop-color="#9c6b4e"/></linearGradient>
<path d="M835,2839.00C962.5,2839.00 962.5,2845.90 1090,2845.90L1090,2857.00C962.5,2857.00 962.5,2850.10 835,2850.10Z" fill="url(#lg15)" fill-opacity="0.4"/>
<linearGradient id="lg16" gradientUnits="userSpaceOnUse" x1="565" y1="0" x2="820" y2="0"><stop offset="0" stop-color="#0099c6"/><stop offset="1" stop-color="#5caac2"/></linearGradient>
<path d="M565,2810.50C692.5,2810.50 692.5,2863.00 820,2863.00L820,2950.80C692.5,2950.80 692.5,2898.30 565,2898.30Z" fill="url(#lg16)" fill-opacity="0.4"/>
<rect x="820" y="2863.00" width="15" height="87.80" fill="#5caac2" fill-opacity="0.4"/>
<linearGradient id="lg18" gradientUnits="userSpaceOnUse" x1="835" y1="0" x2="1090" y2="0"><stop offset="0" stop-color="#61acc1"/><stop offset="1" stop-color="#bdbdbd"/></linearGradient>
<path d="M835,2863.00C962.5,2863.00 962.5,2866.00 1090,2866.00L1090,2953.80C962.5,2953.80 962.5,2950.80 835,2950.80Z" fill="url(#lg18)" fill-opacity="0.4"/>
<linearGradient id="lg19" gradientUnits="userSpaceOnUse" x1="835" y1="0" x2="1090" y2="0"><stop offset="0" stop-color="#0099c6"/><stop offset="1" stop-color="#97bbf5"/></linearGradient>
<path d="M835,2670.60C962.5,2670.60 962.5,2668.00 1090,2668.00L1090,2669.00C962.5,2669.00 962.5,2671.80 835,2671.80Z" fill="url(#lg19)" fill-opacity="0.4"/>
<linearGradient id="lg20" gradientUnits="userSpaceOnUse" x1="835" y1="0" x2="1090" y2="0"><stop offset="0" stop-color="#0099c6"/><stop offset="1" stop-color="#4269d0"/></linearGradient>
<path d="M835,2683.90C962.5,2683.90 962.5,2678.10 1090,2678.10L1090,2764.90C962.5,2764.90 962.5,2770.70 835,2770.70Z" fill="url(#lg20)" fill-opacity="0.4"/>
<linearGradient id="lg21" gradientUnits="userSpaceOnUse" x1="835" y1="0" x2="1090" y2="0"><stop offset="0" stop-color="#0099c6"/><stop offset="1" stop-color="#f4bd4a"/></linearGradient>
<path d="M835,2770.70C962.5,2770.70 962.5,2774.60 1090,2774.60L1090,2796.40C962.5,2796.40 962.5,2792.50 835,2792.50Z" fill="url(#lg21)" fill-opacity="0.4"/>
<linearGradient id="lg22" gradientUnits="userSpaceOnUse" x1="835" y1="0" x2="1090" y2="0"><stop offset="0" stop-color="#0099c6"/><stop offset="1" stop-color="#ff725c"/></linearGradient>
<path d="M835,2792.50C962.5,2792.50 962.5,2805.40 1090,2805.40L1090,2823.40C962.5,2823.40 962.5,2810.50 835,2810.50Z" fill="url(#lg22)" fill-opacity="0.4"/>
<rect x="280" y="2665.3" width="15" height="34.90" fill="#4db6ac"/>
<rect x="280" y="2706.8" width="15" height="169.20" fill="#488fc2"/>
<rect x="280" y="2882.2" width="15" height="74.40" fill="#ff9800"/>
<rect x="550" y="2665.3" width="15" height="233.50" fill="#0099c6"/>
<rect x="550" y="2905" width="15" height="1.50" fill="#8353d1"/>
<rect x="550" y="2912.7" width="15" height="43.90" fill="#f06292"/>
<rect x="820" y="2670.6" width="15" height="1.20" fill="#0099c6"/>
<rect x="820" y="2683.9" width="15" height="128.40" fill="#0099c6"/>
<rect x="1090" y="2668" width="15" height="1.00" fill="#97bbf5"/>
<rect x="1090" y="2678.1" width="15" height="86.80" fill="#4269d0"/>
<rect x="1090" y="2774.6" width="15" height="21.80" fill="#f4bd4a"/>
<rect x="1090" y="2805.4" width="15" height="18.00" fill="#ff725c"/>
<rect x="1090" y="2832.7" width="15" height="4.20" fill="#ff8ab7"/>
<rect x="1090" y="2845.9" width="15" height="11.10" fill="#9c6b4e"/>
<rect x="1090" y="2866" width="15" height="87.80" fill="#bdbdbd"/>
<text x="300.0" y="2686.2" font-size="12" text-anchor="start" fill="#212121" textLength="41.9" lengthAdjust="spacingAndGlyphs" stroke="#fff" stroke-width="3" stroke-opacity="0.75" paint-order="stroke" stroke-linejoin="round">Batterie</text>
<text x="300.0" y="2795.2" font-size="12" text-anchor="start" fill="#212121" textLength="39.4" lengthAdjust="spacingAndGlyphs" stroke="#fff" stroke-width="3" stroke-opacity="0.75" paint-order="stroke" stroke-linejoin="round">Réseau</text>
<text x="300.0" y="2922.8" font-size="12" text-anchor="start" fill="#212121" textLength="36.7" lengthAdjust="spacingAndGlyphs" stroke="#fff" stroke-width="3" stroke-opacity="0.75" paint-order="stroke" stroke-linejoin="round">Solaire</text>
<text x="570.2" y="2785.1" font-size="12" text-anchor="start" fill="#212121" textLength="39.1" lengthAdjust="spacingAndGlyphs" stroke="#fff" stroke-width="3" stroke-opacity="0.75" paint-order="stroke" stroke-linejoin="round">Maison</text>
<text x="570.2" y="2908.5" font-size="8" text-anchor="start" fill="#212121" textLength="25" lengthAdjust="spacingAndGlyphs" stroke="#fff" stroke-width="3" stroke-opacity="0.75" paint-order="stroke" stroke-linejoin="round">Réseau</text>
<text x="570.2" y="2938.1" font-size="12" text-anchor="start" fill="#212121" textLength="41.2" lengthAdjust="spacingAndGlyphs" stroke="#fff" stroke-width="3" stroke-opacity="0.75" paint-order="stroke" stroke-linejoin="round">Batterie</text>
<text x="840.1" y="2673.5" font-size="8" text-anchor="start" fill="#212121" textLength="19" lengthAdjust="spacingAndGlyphs" stroke="#fff" stroke-width="3" stroke-opacity="0.75" paint-order="stroke" stroke-linejoin="round">Salon</text>
<text x="840.1" y="2750.9" font-size="12" text-anchor="start" fill="#212121" textLength="53.6" lengthAdjust="spacingAndGlyphs" stroke="#fff" stroke-width="3" stroke-opacity="0.75" paint-order="stroke" stroke-linejoin="round">Buanderie</text>
<text x="1110.0" y="2671.3" font-size="8" text-anchor="start" fill="#212121" textLength="33.2" lengthAdjust="spacingAndGlyphs" stroke="#fff" stroke-width="3" stroke-opacity="0.75" paint-order="stroke" stroke-linejoin="round">Aquarium</text>
<text x="1110.0" y="2724.9" font-size="12" text-anchor="start" fill="#212121" textLength="43.9" lengthAdjust="spacingAndGlyphs" stroke="#fff" stroke-width="3" stroke-opacity="0.75" paint-order="stroke" stroke-linejoin="round">Voitures</text>
<text x="1110.0" y="2787.9" font-size="12" text-anchor="start" fill="#212121" textLength="21.8" lengthAdjust="spacingAndGlyphs" stroke="#fff" stroke-width="3" stroke-opacity="0.75" paint-order="stroke" stroke-linejoin="round">ECS</text>
<text x="1110.0" y="2818.0" font-size="12" text-anchor="start" fill="#212121" textLength="55.4" lengthAdjust="spacingAndGlyphs" stroke="#fff" stroke-width="3" stroke-opacity="0.75" paint-order="stroke" stroke-linejoin="round">Chauffage</text>
<text x="1110.0" y="2837.5" font-size="10.3" text-anchor="start" fill="#212121" textLength="46.4" lengthAdjust="spacingAndGlyphs" stroke="#fff" stroke-width="3" stroke-opacity="0.75" paint-order="stroke" stroke-linejoin="round">Télé salon</text>
<text x="1110.0" y="2854.0" font-size="12" text-anchor="start" fill="#212121" textLength="38.8" lengthAdjust="spacingAndGlyphs" stroke="#fff" stroke-width="3" stroke-opacity="0.75" paint-order="stroke" stroke-linejoin="round">Piscine</text>
<text x="1110.0" y="2913.2" font-size="12" text-anchor="start" fill="#212121" textLength="139.1" lengthAdjust="spacingAndGlyphs" stroke="#fff" stroke-width="3" stroke-opacity="0.75" paint-order="stroke" stroke-linejoin="round">Consommation non suivie</text>
</svg>
<svg class="abs" style="left:1384px;top:64px" width="288" height="424" viewBox="1384 64 288 424" font-family='"Liberation Sans", sans-serif' >
<clipPath id="cl"><rect x="1480" y="231" width="96" height="142"/></clipPath>
<g clip-path="url(#cl)"><g transform="translate(1457,231) scale(1.42)" fill="none" stroke-width="1" >
<path d="M55,0 v15 c0,30 10,30 30,30 h25" stroke="#ff9800" vector-effect="non-scaling-stroke"/>
<path d="M45,0 v15 c0,30 -10,30 -30,30 h-20" stroke="#8353d1" vector-effect="non-scaling-stroke"/>
<path d="M50,0 V100" stroke="#f06292" vector-effect="non-scaling-stroke"/>
<path d="M0,50 H100" stroke="#488fc2" vector-effect="non-scaling-stroke"/>
<path d="M55,100 v-15 c0,-30 10,-30 30,-30 h20" stroke="#4db6ac" vector-effect="non-scaling-stroke"/>
<path d="M45,100 v-15 c0,-30 -10,-30 -30,-30 h-20" stroke="#8353d1" vector-effect="non-scaling-stroke"/>
</g></g>
<path d="M1440,232V262" stroke="#0f9d58" stroke-opacity="0.7"/>
<circle cx="1504.4" cy="294.7" r="3.4" fill="#8353d1"/>
<circle cx="1547.5" cy="293.4" r="3.4" fill="#ff9800"/>
<circle cx="1549.5" cy="302" r="3.4" fill="#488fc2"/>
<circle cx="1528" cy="325.2" r="3.4" fill="#f06292"/>
<circle cx="1521" cy="347.3" r="3.4" fill="#8353d1"/>
<circle cx="1535" cy="358.6" r="3.4" fill="#4db6ac"/>
<circle cx="1440" cy="192" r="39" fill="none" stroke="#0f9d58" stroke-width="2"/>
<circle cx="1528" cy="192" r="39" fill="none" stroke="#ff9800" stroke-width="2"/>
<circle cx="1440" cy="302" r="39" fill="none" stroke="#488fc2" stroke-width="2"/>
<circle cx="1528" cy="412" r="39" fill="none" stroke="#f06292" stroke-width="2"/>
<path d="M1606.81,265.13A38,38 0 0 1 1639.55,272.18" fill="none" stroke="#4db6ac" stroke-width="4"/>
<path d="M1639.55,272.18A38,38 0 0 1 1654.00,302.00" fill="none" stroke="#ff9800" stroke-width="4"/>
<path d="M1654.00,302.00A38,38 0 0 1 1653.30,309.25" fill="none" stroke="#488fc2" stroke-width="4"/>
<path d="M1653.30,309.25A38,38 0 1 1 1606.81,265.13" fill="none" stroke="#0f9d58" stroke-width="4"/>
<path fill="#0f9d58" fill-rule="evenodd" transform="translate(1428.00,173.30) scale(1.0000)" d="M17,8C8,10 5.9,16.17 3.82,21.34L5.71,22L6.66,19.7C7.14,19.87 7.64,20 8,20C19,20 22,3 22,3C21,5 14,5.25 9,6.25C4,7.25 2,11.5 2,13.5C2,15.5 3.75,17.25 3.75,17.25C7,8 17,8 17,8Z"/>
<path fill="#212121" fill-rule="evenodd" transform="translate(1516.00,173.30) scale(1.0000)" d="M11.45,2V5.55L15,3.77L11.45,2M10.45,8L8,10.46L11.75,11.71L10.45,8M2,11.45L3.77,15L5.55,11.45H2M10,2H2V10C2.57,10.17 3.17,10.25 3.77,10.25C7.35,10.26 10.26,7.35 10.27,3.75C10.26,3.16 10.17,2.57 10,2M17,22V16H14L19,7V13H22L17,22Z"/>
<path fill="#212121" fill-rule="evenodd" transform="translate(1428.00,274.70) scale(1.0000)" d="M8.28,5.45L6.5,4.55L7.76,2H16.23L17.5,4.55L15.72,5.44L15,4H9L8.28,5.45M18.62,8H14.09L13.3,5H10.7L9.91,8H5.38L4.1,10.55L5.89,11.44L6.62,10H17.38L18.1,11.45L19.89,10.56L18.62,8M17.77,22H15.7L15.46,21.1L12,15.9L8.53,21.1L8.3,22H6.23L9.12,11H11.19L10.83,12.35L12,14.1L13.16,12.35L12.81,11H14.88L17.77,22M11.4,15L10.5,13.65L9.32,18.13L11.4,15M14.68,18.12L13.5,13.64L12.6,15L14.68,18.12Z"/>
<path fill="#212121" fill-rule="evenodd" transform="translate(1604.00,282.30) scale(1.0000)" d="M10,20V14H14V20H19V12H22L12,3L2,12H5V20H10Z"/>
<path fill="#212121" fill-rule="evenodd" transform="translate(1516.00,384.70) scale(1.0000)" d="M16,20H8V6H16M16.67,4H15V2H9V4H7.33A1.33,1.33 0 0,0 6,5.33V20.67C6,21.4 6.6,22 7.33,22H16.67A1.33,1.33 0 0,0 18,20.67V5.33C18,4.6 17.4,4 16.67,4M15,16H9V19H15V16M15,7H9V10H15V7M15,11.5H9V14.5H15V11.5Z"/>
<text x="1440.0" y="209.3" font-size="12" text-anchor="middle" fill="#212121" textLength="52.6" lengthAdjust="spacingAndGlyphs" >9,58 MWh</text>
<text x="1528.0" y="209.3" font-size="12" text-anchor="middle" fill="#212121" textLength="52.8" lengthAdjust="spacingAndGlyphs" >4,42 MWh</text>
<text x="1616.0" y="318.7" font-size="12" text-anchor="middle" fill="#212121" textLength="52.2" lengthAdjust="spacingAndGlyphs" >13,8 MWh</text>
<path fill="#8353d1" fill-rule="evenodd" transform="translate(1411.30,301.00) scale(0.5000)" d="M20,11V13H8L13.5,18.5L12.08,19.92L4.16,12L12.08,4.08L13.5,5.5L8,11H20Z"/>
<text x="1422.9" y="311.3" font-size="12" text-anchor="start" fill="#8353d1" textLength="46.1" lengthAdjust="spacingAndGlyphs" >0,1 MWh</text>
<path fill="#488fc2" fill-rule="evenodd" transform="translate(1411.90,314.50) scale(0.5000)" d="M4,11V13H16L10.5,18.5L11.92,19.92L19.84,12L11.92,4.08L10.5,5.5L16,11H4Z"/>
<text x="1425.0" y="324.8" font-size="12" text-anchor="start" fill="#488fc2" textLength="43" lengthAdjust="spacingAndGlyphs" >10 MWh</text>
<path fill="#f06292" fill-rule="evenodd" transform="translate(1495.30,410.60) scale(0.5000)" d="M11,4H13V16L18.5,10.5L19.92,11.92L12,19.84L4.08,11.92L5.5,10.5L11,16V4Z"/>
<text x="1507.9" y="420.9" font-size="12" text-anchor="start" fill="#f06292" textLength="52.3" lengthAdjust="spacingAndGlyphs" >2,61 MWh</text>
<path fill="#4db6ac" fill-rule="evenodd" transform="translate(1495.30,424.50) scale(0.5000)" d="M13,20H11V8L5.5,13.5L4.08,12.08L12,4.16L19.92,12.08L18.5,13.5L13,8V20Z"/>
<text x="1507.9" y="434.8" font-size="12" text-anchor="start" fill="#4db6ac" textLength="52.3" lengthAdjust="spacingAndGlyphs" >2,08 MWh</text>
<text x="1440.0" y="145.1" font-size="12" text-anchor="middle" fill="#686868" textLength="66.8" lengthAdjust="spacingAndGlyphs" >Bas-carbone</text>
<text x="1528.0" y="145.1" font-size="12" text-anchor="middle" fill="#686868" textLength="36.5" lengthAdjust="spacingAndGlyphs" >Solaire</text>
<text x="1440.0" y="354.9" font-size="12" text-anchor="middle" fill="#686868" textLength="38.9" lengthAdjust="spacingAndGlyphs" >Réseau</text>
<text x="1616.0" y="354.9" font-size="12" text-anchor="middle" fill="#686868" textLength="38.9" lengthAdjust="spacingAndGlyphs" >Maison</text>
<text x="1528.0" y="464.9" font-size="12" text-anchor="middle" fill="#686868" textLength="41.4" lengthAdjust="spacingAndGlyphs" >Batterie</text>
</svg>
<svg class="abs" style="left:1384px;top:496px" width="288" height="182" viewBox="1384 496 288 182" font-family='"Liberation Sans", sans-serif' >
<clipPath id="g496"><rect x="1403" y="512" width="250" height="125"/></clipPath><g clip-path="url(#g496)">
<path d="M1428.00,637.00A100,100 0 0 1 1528.00,537.00" fill="none" stroke="#488fc2" stroke-width="37.5"/>
<path d="M1528.00,537.00A100,100 0 0 1 1628.00,637.00" fill="none" stroke="#8353d1" stroke-width="37.5"/>
<path d="M1465.5,630.75L1409.25,637L1465.5,643.25Z" fill="#212121"/>
</g>
<text x="1528.0" y="639.4" font-size="20.4" text-anchor="middle" fill="#212121" textLength="124" lengthAdjust="spacingAndGlyphs" >9 935,55 kWh</text>
<path fill="#636363" fill-rule="evenodd" transform="translate(1644.00,500.00) scale(1.0000)" d="M13,9H11V7H13M13,17H11V11H13M12,2A10,10 0 0,0 2,12A10,10 0 0,0 12,22A10,10 0 0,0 22,12A10,10 0 0,0 12,2Z"/>
</svg>
<svg class="abs" style="left:1384px;top:686px" width="288" height="182" viewBox="1384 686 288 182" font-family='"Liberation Sans", sans-serif' >
<clipPath id="g686"><rect x="1403" y="702" width="250" height="125"/></clipPath><g clip-path="url(#g686)">
<path d="M1428.00,827.00A100,100 0 0 1 1628.00,827.00" fill="none" stroke="#f8f8f8" stroke-width="37.5"/>
<path d="M1428.00,827.00A100,100 0 0 1 1627.80,820.72" fill="none" stroke="#43a047" stroke-width="37.5"/>
</g>
<text x="1528.0" y="824.6" font-size="41.5" text-anchor="middle" fill="#141414" textLength="85.5" lengthAdjust="spacingAndGlyphs" >98 %</text>
<path fill="#636363" fill-rule="evenodd" transform="translate(1644.00,690.00) scale(1.0000)" d="M13,9H11V7H13M13,17H11V11H13M12,2A10,10 0 0,0 2,12A10,10 0 0,0 12,22A10,10 0 0,0 22,12A10,10 0 0,0 12,2Z"/>
</svg>
<svg class="abs" style="left:1384px;top:876px" width="288" height="182" viewBox="1384 876 288 182" font-family='"Liberation Sans", sans-serif' >
<clipPath id="g876"><rect x="1403" y="892" width="250" height="125"/></clipPath><g clip-path="url(#g876)">
<path d="M1428.00,1017.00A100,100 0 0 1 1628.00,1017.00" fill="none" stroke="#f8f8f8" stroke-width="37.5"/>
<path d="M1428.00,1017.00A100,100 0 0 1 1461.87,941.99" fill="none" stroke="#ffa600" stroke-width="37.5"/>
</g>
<text x="1528.0" y="1014.6" font-size="41.5" text-anchor="middle" fill="#141414" textLength="85.5" lengthAdjust="spacingAndGlyphs" >27 %</text>
<path fill="#636363" fill-rule="evenodd" transform="translate(1644.00,880.00) scale(1.0000)" d="M13,9H11V7H13M13,17H11V11H13M12,2A10,10 0 0,0 2,12A10,10 0 0,0 12,22A10,10 0 0,0 22,12A10,10 0 0,0 12,2Z"/>
</svg>
<svg class="abs" style="left:1384px;top:1066px" width="288" height="182" viewBox="1384 1066 288 182" font-family='"Liberation Sans", sans-serif' >
<clipPath id="g1066"><rect x="1403" y="1082" width="250" height="125"/></clipPath><g clip-path="url(#g1066)">
<path d="M1428.00,1207.00A100,100 0 0 1 1628.00,1207.00" fill="none" stroke="#f8f8f8" stroke-width="37.5"/>
<path d="M1428.00,1207.00A100,100 0 0 1 1627.56,1197.59" fill="none" stroke="#43a047" stroke-width="37.5"/>
</g>
<text x="1528.0" y="1204.6" font-size="41.5" text-anchor="middle" fill="#141414" textLength="85.5" lengthAdjust="spacingAndGlyphs" >97 %</text>
<path fill="#636363" fill-rule="evenodd" transform="translate(1644.00,1070.00) scale(1.0000)" d="M13,9H11V7H13M13,17H11V11H13M12,2A10,10 0 0,0 2,12A10,10 0 0,0 12,22A10,10 0 0,0 22,12A10,10 0 0,0 12,2Z"/>
</svg>
<svg class="abs" style="left:1384px;top:641px" width="288" height="30" viewBox="1384 641 288 30" font-family='"Liberation Sans", sans-serif' >
<text x="1528.0" y="658.4" font-size="15" text-anchor="middle" fill="#212121" textLength="194.6" lengthAdjust="spacingAndGlyphs" >Consommation nette du réseau</text>
</svg>
<svg class="abs" style="left:1384px;top:831px" width="288" height="30" viewBox="1384 831 288 30" font-family='"Liberation Sans", sans-serif' >
<text x="1528.0" y="848.4" font-size="15" text-anchor="middle" fill="#212121" textLength="204.1" lengthAdjust="spacingAndGlyphs" >Énergie solaire auto-consommée</text>
</svg>
<svg class="abs" style="left:1384px;top:1021px" width="288" height="30" viewBox="1384 1021 288 30" font-family='"Liberation Sans", sans-serif' >
<text x="1528.0" y="1038.4" font-size="15" text-anchor="middle" fill="#212121" textLength="93" lengthAdjust="spacingAndGlyphs" >Autosuffisance</text>
</svg>
<svg class="abs" style="left:1384px;top:1211px" width="288" height="30" viewBox="1384 1211 288 30" font-family='"Liberation Sans", sans-serif' >
<text x="1528.0" y="1228.4" font-size="15" text-anchor="middle" fill="#212121" textLength="222.8" lengthAdjust="spacingAndGlyphs" >Électricité bas-carbone consommée</text>
</svg>
</body></html>
